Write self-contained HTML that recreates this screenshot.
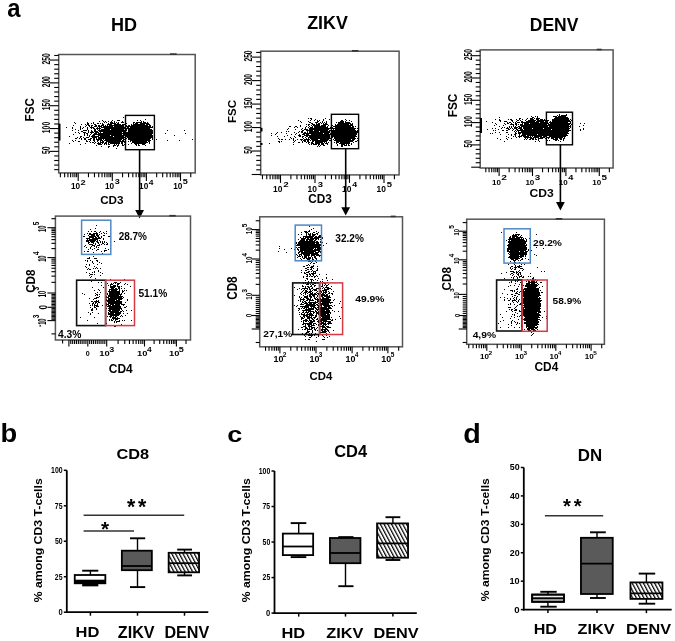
<!DOCTYPE html>
<html><head><meta charset="utf-8"><style>
html,body{margin:0;padding:0;background:#fff;}
svg{display:block;font-family:"Liberation Sans",sans-serif;filter:blur(0.35px);}
</style></head><body>
<svg width="675" height="641" viewBox="0 0 675 641">
<rect width="675" height="641" fill="#fff"/>
<text transform="translate(7.28,17.04) scale(0.907,1)" font-size="26.30" font-weight="bold" fill="#000">a</text>
<text transform="translate(110.98,30.70) scale(0.962,1)" font-size="18.76" font-weight="bold" fill="#000">HD</text>
<text transform="translate(307.16,29.30) scale(0.974,1)" font-size="18.33" font-weight="bold" fill="#000">ZIKV</text>
<text transform="translate(529.82,31.00) scale(0.947,1)" font-size="18.47" font-weight="bold" fill="#000">DENV</text>
<path d="M123 117h1v1h-1zM145 119h1v1h-1zM102 120h1v1h-1zM112 120h1v1h-1zM117 120h3v1h-3zM137 120h1v1h-1zM140 120h1v1h-1zM99 121h1v1h-1zM103 121h1v1h-1zM105 121h1v1h-1zM108 121h1v1h-1zM111 121h1v1h-1zM114 121h1v1h-1zM122 121h1v1h-1zM141 121h1v1h-1zM143 121h1v1h-1zM74 122h1v1h-1zM87 122h1v1h-1zM93 122h1v1h-1zM104 122h1v1h-1zM106 122h1v1h-1zM110 122h3v1h-3zM114 122h1v1h-1zM116 122h1v1h-1zM118 122h1v1h-1zM121 122h3v1h-3zM133 122h2v1h-2zM136 122h6v1h-6zM143 122h3v1h-3zM147 122h1v1h-1zM75 123h1v1h-1zM87 123h2v1h-2zM91 123h1v1h-1zM93 123h1v1h-1zM97 123h2v1h-2zM100 123h1v1h-1zM102 123h1v1h-1zM108 123h1v1h-1zM110 123h6v1h-6zM117 123h2v1h-2zM126 123h1v1h-1zM133 123h1v1h-1zM135 123h3v1h-3zM140 123h9v1h-9zM81 124h1v1h-1zM85 124h1v1h-1zM87 124h2v1h-2zM94 124h2v1h-2zM102 124h2v1h-2zM107 124h5v1h-5zM114 124h7v1h-7zM122 124h3v1h-3zM131 124h1v1h-1zM133 124h12v1h-12zM146 124h4v1h-4zM73 125h1v1h-1zM86 125h1v1h-1zM88 125h2v1h-2zM91 125h2v1h-2zM95 125h2v1h-2zM98 125h2v1h-2zM101 125h3v1h-3zM105 125h1v1h-1zM107 125h1v1h-1zM109 125h15v1h-15zM125 125h2v1h-2zM128 125h2v1h-2zM131 125h17v1h-17zM149 125h2v1h-2zM80 126h1v1h-1zM85 126h1v1h-1zM89 126h1v1h-1zM91 126h1v1h-1zM94 126h3v1h-3zM98 126h4v1h-4zM103 126h10v1h-10zM114 126h10v1h-10zM125 126h26v1h-26zM152 126h1v1h-1zM66 127h1v1h-1zM72 127h1v1h-1zM80 127h1v1h-1zM83 127h1v1h-1zM87 127h1v1h-1zM90 127h4v1h-4zM97 127h1v1h-1zM99 127h1v1h-1zM101 127h25v1h-25zM127 127h2v1h-2zM130 127h23v1h-23zM72 128h1v1h-1zM80 128h1v1h-1zM82 128h1v1h-1zM87 128h1v1h-1zM91 128h1v1h-1zM93 128h2v1h-2zM96 128h5v1h-5zM104 128h46v1h-46zM75 129h1v1h-1zM80 129h1v1h-1zM87 129h1v1h-1zM94 129h2v1h-2zM97 129h1v1h-1zM99 129h1v1h-1zM101 129h9v1h-9zM111 129h13v1h-13zM125 129h2v1h-2zM128 129h24v1h-24zM72 130h1v1h-1zM78 130h1v1h-1zM83 130h4v1h-4zM88 130h1v1h-1zM91 130h1v1h-1zM94 130h2v1h-2zM98 130h29v1h-29zM128 130h25v1h-25zM167 130h1v1h-1zM184 130h1v1h-1zM81 131h2v1h-2zM88 131h1v1h-1zM91 131h2v1h-2zM94 131h4v1h-4zM99 131h27v1h-27zM128 131h25v1h-25zM154 131h1v1h-1zM75 132h1v1h-1zM78 132h1v1h-1zM83 132h3v1h-3zM88 132h1v1h-1zM90 132h4v1h-4zM95 132h4v1h-4zM100 132h1v1h-1zM103 132h19v1h-19zM123 132h2v1h-2zM126 132h27v1h-27zM79 133h1v1h-1zM84 133h1v1h-1zM86 133h2v1h-2zM91 133h1v1h-1zM94 133h3v1h-3zM98 133h55v1h-55zM165 133h1v1h-1zM185 133h1v1h-1zM73 134h1v1h-1zM84 134h1v1h-1zM87 134h1v1h-1zM90 134h1v1h-1zM93 134h29v1h-29zM123 134h29v1h-29zM84 135h1v1h-1zM87 135h1v1h-1zM89 135h1v1h-1zM92 135h3v1h-3zM98 135h12v1h-12zM111 135h42v1h-42zM174 135h1v1h-1zM69 136h1v1h-1zM80 136h2v1h-2zM89 136h1v1h-1zM91 136h8v1h-8zM100 136h13v1h-13zM114 136h10v1h-10zM125 136h28v1h-28zM77 137h1v1h-1zM80 137h1v1h-1zM83 137h1v1h-1zM86 137h3v1h-3zM92 137h5v1h-5zM98 137h28v1h-28zM127 137h26v1h-26zM75 138h2v1h-2zM79 138h1v1h-1zM81 138h1v1h-1zM84 138h2v1h-2zM90 138h2v1h-2zM93 138h2v1h-2zM96 138h1v1h-1zM98 138h26v1h-26zM125 138h2v1h-2zM128 138h23v1h-23zM152 138h1v1h-1zM81 139h1v1h-1zM84 139h2v1h-2zM88 139h3v1h-3zM93 139h2v1h-2zM96 139h6v1h-6zM103 139h1v1h-1zM105 139h17v1h-17zM123 139h2v1h-2zM128 139h22v1h-22zM152 139h1v1h-1zM156 139h1v1h-1zM192 139h1v1h-1zM72 140h1v1h-1zM75 140h1v1h-1zM86 140h1v1h-1zM90 140h1v1h-1zM93 140h2v1h-2zM97 140h2v1h-2zM100 140h3v1h-3zM104 140h17v1h-17zM122 140h2v1h-2zM125 140h1v1h-1zM130 140h21v1h-21zM167 140h1v1h-1zM179 140h1v1h-1zM73 141h1v1h-1zM78 141h2v1h-2zM86 141h2v1h-2zM89 141h1v1h-1zM94 141h1v1h-1zM97 141h1v1h-1zM100 141h1v1h-1zM102 141h2v1h-2zM106 141h20v1h-20zM128 141h1v1h-1zM130 141h1v1h-1zM132 141h15v1h-15zM148 141h2v1h-2zM90 142h1v1h-1zM92 142h2v1h-2zM95 142h1v1h-1zM98 142h1v1h-1zM100 142h4v1h-4zM105 142h2v1h-2zM108 142h12v1h-12zM121 142h2v1h-2zM124 142h1v1h-1zM132 142h16v1h-16zM149 142h1v1h-1zM69 143h1v1h-1zM85 143h1v1h-1zM94 143h1v1h-1zM97 143h4v1h-4zM102 143h1v1h-1zM104 143h3v1h-3zM108 143h1v1h-1zM110 143h10v1h-10zM121 143h2v1h-2zM125 143h1v1h-1zM131 143h1v1h-1zM134 143h12v1h-12zM149 143h1v1h-1zM80 144h1v1h-1zM98 144h4v1h-4zM104 144h1v1h-1zM106 144h1v1h-1zM108 144h2v1h-2zM114 144h1v1h-1zM116 144h1v1h-1zM118 144h1v1h-1zM122 144h1v1h-1zM124 144h1v1h-1zM128 144h1v1h-1zM135 144h2v1h-2zM138 144h1v1h-1zM142 144h3v1h-3zM96 145h1v1h-1zM113 145h3v1h-3zM117 145h2v1h-2zM122 145h2v1h-2zM136 145h1v1h-1zM138 145h2v1h-2zM145 145h1v1h-1zM101 146h1v1h-1zM108 146h2v1h-2zM113 146h1v1h-1zM117 146h1v1h-1zM108 147h1v1h-1zM116 148h1v1h-1z" fill="#000"/>
<rect x="58.70" y="54.50" width="136.50" height="118.40" stroke="#555" stroke-width="1.5" fill="none"/>
<line x1="54.20" y1="169.63" x2="58.70" y2="169.63" stroke="#000" stroke-width="1.1"/>
<line x1="54.20" y1="165.07" x2="58.70" y2="165.07" stroke="#000" stroke-width="1.1"/>
<line x1="54.20" y1="160.50" x2="58.70" y2="160.50" stroke="#000" stroke-width="1.1"/>
<line x1="54.20" y1="155.94" x2="58.70" y2="155.94" stroke="#000" stroke-width="1.1"/>
<line x1="49.70" y1="151.37" x2="58.70" y2="151.37" stroke="#000" stroke-width="1.1"/>
<line x1="54.20" y1="146.80" x2="58.70" y2="146.80" stroke="#000" stroke-width="1.1"/>
<line x1="54.20" y1="142.24" x2="58.70" y2="142.24" stroke="#000" stroke-width="1.1"/>
<line x1="54.20" y1="137.67" x2="58.70" y2="137.67" stroke="#000" stroke-width="1.1"/>
<line x1="54.20" y1="133.11" x2="58.70" y2="133.11" stroke="#000" stroke-width="1.1"/>
<line x1="49.70" y1="128.54" x2="58.70" y2="128.54" stroke="#000" stroke-width="1.1"/>
<line x1="54.20" y1="123.97" x2="58.70" y2="123.97" stroke="#000" stroke-width="1.1"/>
<line x1="54.20" y1="119.41" x2="58.70" y2="119.41" stroke="#000" stroke-width="1.1"/>
<line x1="54.20" y1="114.84" x2="58.70" y2="114.84" stroke="#000" stroke-width="1.1"/>
<line x1="54.20" y1="110.28" x2="58.70" y2="110.28" stroke="#000" stroke-width="1.1"/>
<line x1="49.70" y1="105.71" x2="58.70" y2="105.71" stroke="#000" stroke-width="1.1"/>
<line x1="54.20" y1="101.14" x2="58.70" y2="101.14" stroke="#000" stroke-width="1.1"/>
<line x1="54.20" y1="96.58" x2="58.70" y2="96.58" stroke="#000" stroke-width="1.1"/>
<line x1="54.20" y1="92.01" x2="58.70" y2="92.01" stroke="#000" stroke-width="1.1"/>
<line x1="54.20" y1="87.45" x2="58.70" y2="87.45" stroke="#000" stroke-width="1.1"/>
<line x1="49.70" y1="82.88" x2="58.70" y2="82.88" stroke="#000" stroke-width="1.1"/>
<line x1="54.20" y1="78.31" x2="58.70" y2="78.31" stroke="#000" stroke-width="1.1"/>
<line x1="54.20" y1="73.75" x2="58.70" y2="73.75" stroke="#000" stroke-width="1.1"/>
<line x1="54.20" y1="69.18" x2="58.70" y2="69.18" stroke="#000" stroke-width="1.1"/>
<line x1="54.20" y1="64.62" x2="58.70" y2="64.62" stroke="#000" stroke-width="1.1"/>
<line x1="49.70" y1="60.05" x2="58.70" y2="60.05" stroke="#000" stroke-width="1.1"/>
<line x1="54.20" y1="55.48" x2="58.70" y2="55.48" stroke="#000" stroke-width="1.1"/>
<text transform="translate(49.59,154.02) rotate(-90) scale(0.636,1)" font-size="10.74" font-weight="bold" fill="#000">50</text>
<text transform="translate(49.59,133.19) rotate(-90) scale(0.634,1)" font-size="10.74" font-weight="bold" fill="#000">100</text>
<text transform="translate(49.59,110.36) rotate(-90) scale(0.634,1)" font-size="10.74" font-weight="bold" fill="#000">150</text>
<text transform="translate(49.59,87.34) rotate(-90) scale(0.623,1)" font-size="10.74" font-weight="bold" fill="#000">200</text>
<text transform="translate(49.59,64.51) rotate(-90) scale(0.623,1)" font-size="10.74" font-weight="bold" fill="#000">250</text>
<line x1="60.37" y1="172.90" x2="60.37" y2="177.20" stroke="#000" stroke-width="1.1"/>
<line x1="64.63" y1="172.90" x2="64.63" y2="177.20" stroke="#000" stroke-width="1.1"/>
<line x1="67.93" y1="172.90" x2="67.93" y2="177.20" stroke="#000" stroke-width="1.1"/>
<line x1="70.63" y1="172.90" x2="70.63" y2="177.20" stroke="#000" stroke-width="1.1"/>
<line x1="72.92" y1="172.90" x2="72.92" y2="177.20" stroke="#000" stroke-width="1.1"/>
<line x1="74.90" y1="172.90" x2="74.90" y2="177.20" stroke="#000" stroke-width="1.1"/>
<line x1="76.64" y1="172.90" x2="76.64" y2="177.20" stroke="#000" stroke-width="1.1"/>
<line x1="78.20" y1="172.90" x2="78.20" y2="180.90" stroke="#000" stroke-width="1.1"/>
<line x1="88.47" y1="172.90" x2="88.47" y2="177.20" stroke="#000" stroke-width="1.1"/>
<line x1="94.47" y1="172.90" x2="94.47" y2="177.20" stroke="#000" stroke-width="1.1"/>
<line x1="98.73" y1="172.90" x2="98.73" y2="177.20" stroke="#000" stroke-width="1.1"/>
<line x1="102.03" y1="172.90" x2="102.03" y2="177.20" stroke="#000" stroke-width="1.1"/>
<line x1="104.73" y1="172.90" x2="104.73" y2="177.20" stroke="#000" stroke-width="1.1"/>
<line x1="107.02" y1="172.90" x2="107.02" y2="177.20" stroke="#000" stroke-width="1.1"/>
<line x1="109.00" y1="172.90" x2="109.00" y2="177.20" stroke="#000" stroke-width="1.1"/>
<line x1="110.74" y1="172.90" x2="110.74" y2="177.20" stroke="#000" stroke-width="1.1"/>
<line x1="112.30" y1="172.90" x2="112.30" y2="180.90" stroke="#000" stroke-width="1.1"/>
<line x1="122.57" y1="172.90" x2="122.57" y2="177.20" stroke="#000" stroke-width="1.1"/>
<line x1="128.57" y1="172.90" x2="128.57" y2="177.20" stroke="#000" stroke-width="1.1"/>
<line x1="132.83" y1="172.90" x2="132.83" y2="177.20" stroke="#000" stroke-width="1.1"/>
<line x1="136.13" y1="172.90" x2="136.13" y2="177.20" stroke="#000" stroke-width="1.1"/>
<line x1="138.83" y1="172.90" x2="138.83" y2="177.20" stroke="#000" stroke-width="1.1"/>
<line x1="141.12" y1="172.90" x2="141.12" y2="177.20" stroke="#000" stroke-width="1.1"/>
<line x1="143.10" y1="172.90" x2="143.10" y2="177.20" stroke="#000" stroke-width="1.1"/>
<line x1="144.84" y1="172.90" x2="144.84" y2="177.20" stroke="#000" stroke-width="1.1"/>
<line x1="146.40" y1="172.90" x2="146.40" y2="180.90" stroke="#000" stroke-width="1.1"/>
<line x1="156.67" y1="172.90" x2="156.67" y2="177.20" stroke="#000" stroke-width="1.1"/>
<line x1="162.67" y1="172.90" x2="162.67" y2="177.20" stroke="#000" stroke-width="1.1"/>
<line x1="166.93" y1="172.90" x2="166.93" y2="177.20" stroke="#000" stroke-width="1.1"/>
<line x1="170.23" y1="172.90" x2="170.23" y2="177.20" stroke="#000" stroke-width="1.1"/>
<line x1="172.93" y1="172.90" x2="172.93" y2="177.20" stroke="#000" stroke-width="1.1"/>
<line x1="175.22" y1="172.90" x2="175.22" y2="177.20" stroke="#000" stroke-width="1.1"/>
<line x1="177.20" y1="172.90" x2="177.20" y2="177.20" stroke="#000" stroke-width="1.1"/>
<line x1="178.94" y1="172.90" x2="178.94" y2="177.20" stroke="#000" stroke-width="1.1"/>
<line x1="180.50" y1="172.90" x2="180.50" y2="180.90" stroke="#000" stroke-width="1.1"/>
<line x1="190.77" y1="172.90" x2="190.77" y2="177.20" stroke="#000" stroke-width="1.1"/>
<text transform="translate(70.89,189.41) scale(0.883,1)" font-size="9.33" font-weight="bold" fill="#000">10</text>
<text transform="translate(80.47,184.50) scale(1.276,1)" font-size="7.31" font-weight="bold" fill="#000">2</text>
<text transform="translate(104.99,189.41) scale(0.883,1)" font-size="9.33" font-weight="bold" fill="#000">10</text>
<text transform="translate(114.70,184.41) scale(1.259,1)" font-size="7.18" font-weight="bold" fill="#000">3</text>
<text transform="translate(139.09,189.41) scale(0.883,1)" font-size="9.33" font-weight="bold" fill="#000">10</text>
<text transform="translate(148.87,184.50) scale(1.134,1)" font-size="7.42" font-weight="bold" fill="#000">4</text>
<text transform="translate(173.19,189.41) scale(0.883,1)" font-size="9.33" font-weight="bold" fill="#000">10</text>
<text transform="translate(182.83,184.43) scale(1.237,1)" font-size="7.31" font-weight="bold" fill="#000">5</text>
<rect x="125.50" y="115.40" width="28.90" height="34.30" stroke="#000" stroke-width="1.4" fill="none"/>
<line x1="139.60" y1="149.70" x2="139.60" y2="211.40" stroke="#000" stroke-width="1.6"/>
<path d="M135.2 210.1L144.0 210.1L139.6 218.4z" fill="#000"/>
<text transform="translate(33.88,121.39) rotate(-90) scale(0.948,1)" font-size="12.30" font-weight="bold" fill="#000">FSC</text>
<text transform="translate(100.13,203.96) scale(1.025,1)" font-size="11.41" font-weight="bold" fill="#000">CD3</text>
<line x1="59.50" y1="123.70" x2="59.50" y2="140.60" stroke="#000" stroke-width="2"/>
<line x1="170.00" y1="54.10" x2="176.70" y2="54.10" stroke="#333" stroke-width="1.6"/>
<path d="M308 118h1v1h-1zM310 118h2v1h-2zM325 118h1v1h-1zM331 118h1v1h-1zM311 119h1v1h-1zM315 119h1v1h-1zM323 119h1v1h-1zM329 119h1v1h-1zM345 119h1v1h-1zM298 120h1v1h-1zM310 120h1v1h-1zM314 120h1v1h-1zM317 120h1v1h-1zM319 120h1v1h-1zM323 120h1v1h-1zM341 120h2v1h-2zM346 120h1v1h-1zM349 120h1v1h-1zM300 121h1v1h-1zM308 121h1v1h-1zM317 121h2v1h-2zM322 121h1v1h-1zM326 121h1v1h-1zM331 121h1v1h-1zM340 121h4v1h-4zM345 121h1v1h-1zM351 121h1v1h-1zM301 122h1v1h-1zM309 122h2v1h-2zM315 122h3v1h-3zM320 122h1v1h-1zM322 122h1v1h-1zM324 122h1v1h-1zM326 122h1v1h-1zM336 122h1v1h-1zM338 122h6v1h-6zM345 122h5v1h-5zM311 123h2v1h-2zM316 123h1v1h-1zM318 123h2v1h-2zM321 123h1v1h-1zM323 123h1v1h-1zM325 123h2v1h-2zM338 123h13v1h-13zM352 123h1v1h-1zM306 124h1v1h-1zM308 124h2v1h-2zM312 124h3v1h-3zM316 124h4v1h-4zM323 124h5v1h-5zM335 124h1v1h-1zM337 124h12v1h-12zM350 124h3v1h-3zM300 125h1v1h-1zM308 125h1v1h-1zM311 125h1v1h-1zM313 125h7v1h-7zM321 125h5v1h-5zM328 125h1v1h-1zM332 125h1v1h-1zM335 125h18v1h-18zM289 126h2v1h-2zM295 126h2v1h-2zM300 126h1v1h-1zM306 126h1v1h-1zM309 126h1v1h-1zM312 126h1v1h-1zM314 126h12v1h-12zM327 126h1v1h-1zM331 126h1v1h-1zM333 126h18v1h-18zM352 126h2v1h-2zM355 126h1v1h-1zM294 127h1v1h-1zM297 127h1v1h-1zM305 127h1v1h-1zM308 127h1v1h-1zM310 127h3v1h-3zM314 127h14v1h-14zM330 127h3v1h-3zM335 127h19v1h-19zM288 128h1v1h-1zM302 128h1v1h-1zM305 128h1v1h-1zM309 128h47v1h-47zM357 128h1v1h-1zM287 129h1v1h-1zM295 129h1v1h-1zM301 129h1v1h-1zM304 129h4v1h-4zM309 129h20v1h-20zM333 129h1v1h-1zM335 129h20v1h-20zM302 130h2v1h-2zM306 130h7v1h-7zM314 130h14v1h-14zM329 130h2v1h-2zM332 130h24v1h-24zM357 130h1v1h-1zM286 131h1v1h-1zM288 131h1v1h-1zM299 131h1v1h-1zM301 131h2v1h-2zM307 131h1v1h-1zM309 131h10v1h-10zM320 131h10v1h-10zM332 131h26v1h-26zM277 132h1v1h-1zM281 132h1v1h-1zM294 132h1v1h-1zM298 132h1v1h-1zM301 132h2v1h-2zM304 132h2v1h-2zM307 132h1v1h-1zM309 132h21v1h-21zM332 132h26v1h-26zM271 133h1v1h-1zM276 133h1v1h-1zM286 133h1v1h-1zM296 133h1v1h-1zM303 133h20v1h-20zM324 133h5v1h-5zM330 133h1v1h-1zM332 133h25v1h-25zM275 134h1v1h-1zM291 134h1v1h-1zM295 134h1v1h-1zM299 134h1v1h-1zM302 134h3v1h-3zM306 134h3v1h-3zM311 134h46v1h-46zM271 135h1v1h-1zM287 135h1v1h-1zM298 135h3v1h-3zM304 135h26v1h-26zM331 135h25v1h-25zM277 136h1v1h-1zM284 136h1v1h-1zM294 136h1v1h-1zM299 136h2v1h-2zM302 136h2v1h-2zM306 136h2v1h-2zM309 136h21v1h-21zM332 136h25v1h-25zM290 137h1v1h-1zM295 137h1v1h-1zM302 137h1v1h-1zM305 137h1v1h-1zM308 137h22v1h-22zM332 137h1v1h-1zM334 137h21v1h-21zM278 138h1v1h-1zM291 138h1v1h-1zM293 138h1v1h-1zM303 138h1v1h-1zM306 138h1v1h-1zM308 138h1v1h-1zM310 138h22v1h-22zM334 138h22v1h-22zM357 138h1v1h-1zM279 139h1v1h-1zM281 139h2v1h-2zM285 139h1v1h-1zM289 139h1v1h-1zM293 139h1v1h-1zM297 139h1v1h-1zM300 139h3v1h-3zM304 139h6v1h-6zM311 139h7v1h-7zM320 139h9v1h-9zM333 139h1v1h-1zM335 139h16v1h-16zM352 139h3v1h-3zM293 140h1v1h-1zM295 140h1v1h-1zM301 140h1v1h-1zM303 140h3v1h-3zM307 140h2v1h-2zM310 140h1v1h-1zM312 140h16v1h-16zM329 140h3v1h-3zM334 140h20v1h-20zM357 140h1v1h-1zM278 141h2v1h-2zM281 141h1v1h-1zM294 141h1v1h-1zM302 141h1v1h-1zM304 141h2v1h-2zM307 141h2v1h-2zM312 141h2v1h-2zM315 141h12v1h-12zM336 141h17v1h-17zM355 141h2v1h-2zM279 142h1v1h-1zM293 142h1v1h-1zM298 142h2v1h-2zM302 142h1v1h-1zM306 142h1v1h-1zM308 142h2v1h-2zM311 142h2v1h-2zM315 142h8v1h-8zM324 142h1v1h-1zM326 142h1v1h-1zM328 142h1v1h-1zM334 142h1v1h-1zM336 142h3v1h-3zM340 142h10v1h-10zM353 142h1v1h-1zM269 143h1v1h-1zM308 143h1v1h-1zM311 143h3v1h-3zM315 143h5v1h-5zM321 143h3v1h-3zM325 143h3v1h-3zM336 143h1v1h-1zM339 143h11v1h-11zM351 143h1v1h-1zM293 144h1v1h-1zM309 144h1v1h-1zM311 144h1v1h-1zM313 144h4v1h-4zM318 144h2v1h-2zM321 144h3v1h-3zM327 144h1v1h-1zM337 144h1v1h-1zM341 144h4v1h-4zM346 144h1v1h-1zM348 144h1v1h-1zM351 144h1v1h-1zM318 145h1v1h-1zM320 145h1v1h-1zM323 145h2v1h-2zM337 145h1v1h-1zM341 145h2v1h-2zM344 145h3v1h-3zM348 145h2v1h-2zM317 146h1v1h-1zM319 146h1v1h-1zM341 146h2v1h-2z" fill="#000"/>
<rect x="260.70" y="51.20" width="138.40" height="123.70" stroke="#555" stroke-width="1.5" fill="none"/>
<line x1="251.70" y1="174.50" x2="260.70" y2="174.50" stroke="#000" stroke-width="1.1"/>
<line x1="256.20" y1="169.81" x2="260.70" y2="169.81" stroke="#000" stroke-width="1.1"/>
<line x1="256.20" y1="165.11" x2="260.70" y2="165.11" stroke="#000" stroke-width="1.1"/>
<line x1="256.20" y1="160.41" x2="260.70" y2="160.41" stroke="#000" stroke-width="1.1"/>
<line x1="256.20" y1="155.72" x2="260.70" y2="155.72" stroke="#000" stroke-width="1.1"/>
<line x1="251.70" y1="151.03" x2="260.70" y2="151.03" stroke="#000" stroke-width="1.1"/>
<line x1="256.20" y1="146.33" x2="260.70" y2="146.33" stroke="#000" stroke-width="1.1"/>
<line x1="256.20" y1="141.63" x2="260.70" y2="141.63" stroke="#000" stroke-width="1.1"/>
<line x1="256.20" y1="136.94" x2="260.70" y2="136.94" stroke="#000" stroke-width="1.1"/>
<line x1="256.20" y1="132.25" x2="260.70" y2="132.25" stroke="#000" stroke-width="1.1"/>
<line x1="251.70" y1="127.55" x2="260.70" y2="127.55" stroke="#000" stroke-width="1.1"/>
<line x1="256.20" y1="122.86" x2="260.70" y2="122.86" stroke="#000" stroke-width="1.1"/>
<line x1="256.20" y1="118.16" x2="260.70" y2="118.16" stroke="#000" stroke-width="1.1"/>
<line x1="256.20" y1="113.47" x2="260.70" y2="113.47" stroke="#000" stroke-width="1.1"/>
<line x1="256.20" y1="108.77" x2="260.70" y2="108.77" stroke="#000" stroke-width="1.1"/>
<line x1="251.70" y1="104.08" x2="260.70" y2="104.08" stroke="#000" stroke-width="1.1"/>
<line x1="256.20" y1="99.38" x2="260.70" y2="99.38" stroke="#000" stroke-width="1.1"/>
<line x1="256.20" y1="94.69" x2="260.70" y2="94.69" stroke="#000" stroke-width="1.1"/>
<line x1="256.20" y1="89.99" x2="260.70" y2="89.99" stroke="#000" stroke-width="1.1"/>
<line x1="256.20" y1="85.30" x2="260.70" y2="85.30" stroke="#000" stroke-width="1.1"/>
<line x1="251.70" y1="80.60" x2="260.70" y2="80.60" stroke="#000" stroke-width="1.1"/>
<line x1="256.20" y1="75.91" x2="260.70" y2="75.91" stroke="#000" stroke-width="1.1"/>
<line x1="256.20" y1="71.21" x2="260.70" y2="71.21" stroke="#000" stroke-width="1.1"/>
<line x1="256.20" y1="66.52" x2="260.70" y2="66.52" stroke="#000" stroke-width="1.1"/>
<line x1="256.20" y1="61.82" x2="260.70" y2="61.82" stroke="#000" stroke-width="1.1"/>
<line x1="251.70" y1="57.12" x2="260.70" y2="57.12" stroke="#000" stroke-width="1.1"/>
<line x1="256.20" y1="52.43" x2="260.70" y2="52.43" stroke="#000" stroke-width="1.1"/>
<text transform="translate(251.59,153.68) rotate(-90) scale(0.636,1)" font-size="10.74" font-weight="bold" fill="#000">50</text>
<text transform="translate(251.59,132.20) rotate(-90) scale(0.634,1)" font-size="10.74" font-weight="bold" fill="#000">100</text>
<text transform="translate(251.59,108.73) rotate(-90) scale(0.634,1)" font-size="10.74" font-weight="bold" fill="#000">150</text>
<text transform="translate(251.59,85.06) rotate(-90) scale(0.623,1)" font-size="10.74" font-weight="bold" fill="#000">200</text>
<text transform="translate(251.59,61.58) rotate(-90) scale(0.623,1)" font-size="10.74" font-weight="bold" fill="#000">250</text>
<line x1="262.46" y1="174.90" x2="262.46" y2="179.20" stroke="#000" stroke-width="1.1"/>
<line x1="266.77" y1="174.90" x2="266.77" y2="179.20" stroke="#000" stroke-width="1.1"/>
<line x1="270.11" y1="174.90" x2="270.11" y2="179.20" stroke="#000" stroke-width="1.1"/>
<line x1="272.85" y1="174.90" x2="272.85" y2="179.20" stroke="#000" stroke-width="1.1"/>
<line x1="275.16" y1="174.90" x2="275.16" y2="179.20" stroke="#000" stroke-width="1.1"/>
<line x1="277.16" y1="174.90" x2="277.16" y2="179.20" stroke="#000" stroke-width="1.1"/>
<line x1="278.92" y1="174.90" x2="278.92" y2="179.20" stroke="#000" stroke-width="1.1"/>
<line x1="280.50" y1="174.90" x2="280.50" y2="182.90" stroke="#000" stroke-width="1.1"/>
<line x1="290.89" y1="174.90" x2="290.89" y2="179.20" stroke="#000" stroke-width="1.1"/>
<line x1="296.96" y1="174.90" x2="296.96" y2="179.20" stroke="#000" stroke-width="1.1"/>
<line x1="301.27" y1="174.90" x2="301.27" y2="179.20" stroke="#000" stroke-width="1.1"/>
<line x1="304.61" y1="174.90" x2="304.61" y2="179.20" stroke="#000" stroke-width="1.1"/>
<line x1="307.35" y1="174.90" x2="307.35" y2="179.20" stroke="#000" stroke-width="1.1"/>
<line x1="309.66" y1="174.90" x2="309.66" y2="179.20" stroke="#000" stroke-width="1.1"/>
<line x1="311.66" y1="174.90" x2="311.66" y2="179.20" stroke="#000" stroke-width="1.1"/>
<line x1="313.42" y1="174.90" x2="313.42" y2="179.20" stroke="#000" stroke-width="1.1"/>
<line x1="315.00" y1="174.90" x2="315.00" y2="182.90" stroke="#000" stroke-width="1.1"/>
<line x1="325.39" y1="174.90" x2="325.39" y2="179.20" stroke="#000" stroke-width="1.1"/>
<line x1="331.46" y1="174.90" x2="331.46" y2="179.20" stroke="#000" stroke-width="1.1"/>
<line x1="335.77" y1="174.90" x2="335.77" y2="179.20" stroke="#000" stroke-width="1.1"/>
<line x1="339.11" y1="174.90" x2="339.11" y2="179.20" stroke="#000" stroke-width="1.1"/>
<line x1="341.85" y1="174.90" x2="341.85" y2="179.20" stroke="#000" stroke-width="1.1"/>
<line x1="344.16" y1="174.90" x2="344.16" y2="179.20" stroke="#000" stroke-width="1.1"/>
<line x1="346.16" y1="174.90" x2="346.16" y2="179.20" stroke="#000" stroke-width="1.1"/>
<line x1="347.92" y1="174.90" x2="347.92" y2="179.20" stroke="#000" stroke-width="1.1"/>
<line x1="349.50" y1="174.90" x2="349.50" y2="182.90" stroke="#000" stroke-width="1.1"/>
<line x1="359.89" y1="174.90" x2="359.89" y2="179.20" stroke="#000" stroke-width="1.1"/>
<line x1="365.96" y1="174.90" x2="365.96" y2="179.20" stroke="#000" stroke-width="1.1"/>
<line x1="370.27" y1="174.90" x2="370.27" y2="179.20" stroke="#000" stroke-width="1.1"/>
<line x1="373.61" y1="174.90" x2="373.61" y2="179.20" stroke="#000" stroke-width="1.1"/>
<line x1="376.35" y1="174.90" x2="376.35" y2="179.20" stroke="#000" stroke-width="1.1"/>
<line x1="378.66" y1="174.90" x2="378.66" y2="179.20" stroke="#000" stroke-width="1.1"/>
<line x1="380.66" y1="174.90" x2="380.66" y2="179.20" stroke="#000" stroke-width="1.1"/>
<line x1="382.42" y1="174.90" x2="382.42" y2="179.20" stroke="#000" stroke-width="1.1"/>
<line x1="384.00" y1="174.90" x2="384.00" y2="182.90" stroke="#000" stroke-width="1.1"/>
<line x1="394.39" y1="174.90" x2="394.39" y2="179.20" stroke="#000" stroke-width="1.1"/>
<text transform="translate(272.97,192.11) scale(0.963,1)" font-size="8.76" font-weight="bold" fill="#000">10</text>
<text transform="translate(283.16,187.20) scale(1.307,1)" font-size="7.46" font-weight="bold" fill="#000">2</text>
<text transform="translate(307.47,192.11) scale(0.963,1)" font-size="8.76" font-weight="bold" fill="#000">10</text>
<text transform="translate(317.79,187.11) scale(1.290,1)" font-size="7.32" font-weight="bold" fill="#000">3</text>
<text transform="translate(341.97,192.11) scale(0.963,1)" font-size="8.76" font-weight="bold" fill="#000">10</text>
<text transform="translate(352.37,187.20) scale(1.161,1)" font-size="7.56" font-weight="bold" fill="#000">4</text>
<text transform="translate(376.47,192.11) scale(0.963,1)" font-size="8.76" font-weight="bold" fill="#000">10</text>
<text transform="translate(386.72,187.13) scale(1.267,1)" font-size="7.46" font-weight="bold" fill="#000">5</text>
<rect x="331.40" y="114.30" width="27.20" height="34.40" stroke="#000" stroke-width="1.4" fill="none"/>
<line x1="345.70" y1="148.70" x2="345.70" y2="208.60" stroke="#000" stroke-width="1.6"/>
<path d="M341.3 207.3L350.1 207.3L345.7 215.6z" fill="#000"/>
<text transform="translate(236.48,122.98) rotate(-90) scale(0.992,1)" font-size="11.59" font-weight="bold" fill="#000">FSC</text>
<text transform="translate(308.13,202.75) scale(0.989,1)" font-size="11.97" font-weight="bold" fill="#000">CD3</text>
<line x1="261.50" y1="127.80" x2="261.50" y2="131.50" stroke="#000" stroke-width="2"/>
<line x1="261.50" y1="143.00" x2="261.50" y2="145.00" stroke="#000" stroke-width="2"/>
<line x1="352.00" y1="50.80" x2="358.40" y2="50.80" stroke="#333" stroke-width="1.6"/>
<path d="M559 114h1v1h-1zM566 114h1v1h-1zM557 115h1v1h-1zM559 115h1v1h-1zM561 115h6v1h-6zM531 116h1v1h-1zM535 116h1v1h-1zM537 116h1v1h-1zM553 116h4v1h-4zM558 116h8v1h-8zM499 117h1v1h-1zM532 117h2v1h-2zM537 117h1v1h-1zM555 117h13v1h-13zM519 118h2v1h-2zM527 118h1v1h-1zM530 118h3v1h-3zM534 118h1v1h-1zM536 118h4v1h-4zM554 118h15v1h-15zM495 119h1v1h-1zM499 119h1v1h-1zM508 119h1v1h-1zM510 119h2v1h-2zM516 119h1v1h-1zM519 119h1v1h-1zM522 119h1v1h-1zM526 119h1v1h-1zM530 119h4v1h-4zM536 119h3v1h-3zM540 119h3v1h-3zM544 119h1v1h-1zM552 119h17v1h-17zM570 119h1v1h-1zM499 120h2v1h-2zM511 120h2v1h-2zM517 120h2v1h-2zM520 120h1v1h-1zM525 120h1v1h-1zM528 120h8v1h-8zM537 120h12v1h-12zM552 120h18v1h-18zM571 120h1v1h-1zM486 121h1v1h-1zM500 121h1v1h-1zM504 121h3v1h-3zM512 121h1v1h-1zM516 121h1v1h-1zM521 121h2v1h-2zM526 121h9v1h-9zM536 121h8v1h-8zM545 121h1v1h-1zM547 121h1v1h-1zM550 121h1v1h-1zM552 121h19v1h-19zM492 122h1v1h-1zM507 122h1v1h-1zM509 122h2v1h-2zM513 122h1v1h-1zM515 122h1v1h-1zM517 122h3v1h-3zM521 122h18v1h-18zM540 122h6v1h-6zM547 122h1v1h-1zM549 122h19v1h-19zM570 122h1v1h-1zM495 123h1v1h-1zM504 123h1v1h-1zM507 123h2v1h-2zM511 123h1v1h-1zM515 123h2v1h-2zM522 123h1v1h-1zM524 123h5v1h-5zM530 123h16v1h-16zM547 123h2v1h-2zM550 123h21v1h-21zM580 123h1v1h-1zM584 123h1v1h-1zM496 124h1v1h-1zM505 124h1v1h-1zM510 124h4v1h-4zM515 124h2v1h-2zM518 124h1v1h-1zM520 124h3v1h-3zM524 124h23v1h-23zM548 124h22v1h-22zM571 124h1v1h-1zM494 125h1v1h-1zM503 125h1v1h-1zM513 125h1v1h-1zM516 125h1v1h-1zM520 125h49v1h-49zM570 125h1v1h-1zM583 125h1v1h-1zM499 126h1v1h-1zM509 126h1v1h-1zM511 126h1v1h-1zM513 126h1v1h-1zM515 126h1v1h-1zM518 126h2v1h-2zM521 126h27v1h-27zM549 126h22v1h-22zM579 126h1v1h-1zM502 127h1v1h-1zM504 127h1v1h-1zM507 127h1v1h-1zM509 127h1v1h-1zM511 127h1v1h-1zM514 127h4v1h-4zM519 127h3v1h-3zM523 127h46v1h-46zM570 127h1v1h-1zM492 128h1v1h-1zM495 128h1v1h-1zM501 128h1v1h-1zM506 128h3v1h-3zM510 128h1v1h-1zM512 128h1v1h-1zM514 128h3v1h-3zM518 128h4v1h-4zM523 128h9v1h-9zM533 128h10v1h-10zM544 128h26v1h-26zM583 128h1v1h-1zM487 129h1v1h-1zM498 129h1v1h-1zM508 129h2v1h-2zM513 129h1v1h-1zM516 129h2v1h-2zM520 129h3v1h-3zM524 129h27v1h-27zM552 129h17v1h-17zM580 129h1v1h-1zM583 129h1v1h-1zM493 130h1v1h-1zM495 130h1v1h-1zM502 130h2v1h-2zM506 130h2v1h-2zM512 130h1v1h-1zM515 130h1v1h-1zM517 130h54v1h-54zM580 130h1v1h-1zM514 131h1v1h-1zM516 131h1v1h-1zM518 131h1v1h-1zM521 131h48v1h-48zM495 132h1v1h-1zM499 132h1v1h-1zM506 132h2v1h-2zM515 132h1v1h-1zM518 132h50v1h-50zM490 133h1v1h-1zM492 133h1v1h-1zM515 133h2v1h-2zM518 133h3v1h-3zM522 133h47v1h-47zM500 134h1v1h-1zM508 134h1v1h-1zM511 134h1v1h-1zM514 134h2v1h-2zM519 134h1v1h-1zM522 134h15v1h-15zM538 134h29v1h-29zM511 135h1v1h-1zM515 135h1v1h-1zM519 135h1v1h-1zM521 135h5v1h-5zM527 135h19v1h-19zM547 135h21v1h-21zM506 136h1v1h-1zM513 136h1v1h-1zM515 136h1v1h-1zM518 136h4v1h-4zM523 136h6v1h-6zM530 136h1v1h-1zM532 136h1v1h-1zM534 136h8v1h-8zM543 136h4v1h-4zM549 136h17v1h-17zM508 137h1v1h-1zM516 137h1v1h-1zM519 137h1v1h-1zM524 137h8v1h-8zM533 137h6v1h-6zM540 137h5v1h-5zM547 137h3v1h-3zM551 137h12v1h-12zM564 137h1v1h-1zM497 138h1v1h-1zM506 138h1v1h-1zM511 138h1v1h-1zM525 138h1v1h-1zM527 138h1v1h-1zM530 138h4v1h-4zM535 138h1v1h-1zM538 138h5v1h-5zM545 138h2v1h-2zM548 138h1v1h-1zM551 138h3v1h-3zM555 138h3v1h-3zM559 138h3v1h-3zM563 138h2v1h-2zM500 139h1v1h-1zM507 139h1v1h-1zM524 139h1v1h-1zM526 139h1v1h-1zM529 139h2v1h-2zM532 139h2v1h-2zM535 139h2v1h-2zM538 139h1v1h-1zM553 139h5v1h-5zM560 139h2v1h-2zM563 139h1v1h-1zM538 140h1v1h-1zM547 140h1v1h-1zM549 140h1v1h-1zM555 140h2v1h-2zM558 140h1v1h-1zM563 140h1v1h-1zM504 141h1v1h-1zM535 141h1v1h-1zM539 141h1v1h-1zM560 141h1v1h-1z" fill="#000"/>
<rect x="480.20" y="49.90" width="132.90" height="118.10" stroke="#555" stroke-width="1.5" fill="none"/>
<line x1="471.20" y1="167.20" x2="480.20" y2="167.20" stroke="#000" stroke-width="1.1"/>
<line x1="475.70" y1="162.74" x2="480.20" y2="162.74" stroke="#000" stroke-width="1.1"/>
<line x1="475.70" y1="158.28" x2="480.20" y2="158.28" stroke="#000" stroke-width="1.1"/>
<line x1="475.70" y1="153.82" x2="480.20" y2="153.82" stroke="#000" stroke-width="1.1"/>
<line x1="475.70" y1="149.36" x2="480.20" y2="149.36" stroke="#000" stroke-width="1.1"/>
<line x1="471.20" y1="144.90" x2="480.20" y2="144.90" stroke="#000" stroke-width="1.1"/>
<line x1="475.70" y1="140.44" x2="480.20" y2="140.44" stroke="#000" stroke-width="1.1"/>
<line x1="475.70" y1="135.98" x2="480.20" y2="135.98" stroke="#000" stroke-width="1.1"/>
<line x1="475.70" y1="131.52" x2="480.20" y2="131.52" stroke="#000" stroke-width="1.1"/>
<line x1="475.70" y1="127.06" x2="480.20" y2="127.06" stroke="#000" stroke-width="1.1"/>
<line x1="471.20" y1="122.60" x2="480.20" y2="122.60" stroke="#000" stroke-width="1.1"/>
<line x1="475.70" y1="118.14" x2="480.20" y2="118.14" stroke="#000" stroke-width="1.1"/>
<line x1="475.70" y1="113.68" x2="480.20" y2="113.68" stroke="#000" stroke-width="1.1"/>
<line x1="475.70" y1="109.22" x2="480.20" y2="109.22" stroke="#000" stroke-width="1.1"/>
<line x1="475.70" y1="104.76" x2="480.20" y2="104.76" stroke="#000" stroke-width="1.1"/>
<line x1="471.20" y1="100.30" x2="480.20" y2="100.30" stroke="#000" stroke-width="1.1"/>
<line x1="475.70" y1="95.84" x2="480.20" y2="95.84" stroke="#000" stroke-width="1.1"/>
<line x1="475.70" y1="91.38" x2="480.20" y2="91.38" stroke="#000" stroke-width="1.1"/>
<line x1="475.70" y1="86.92" x2="480.20" y2="86.92" stroke="#000" stroke-width="1.1"/>
<line x1="475.70" y1="82.46" x2="480.20" y2="82.46" stroke="#000" stroke-width="1.1"/>
<line x1="471.20" y1="78.00" x2="480.20" y2="78.00" stroke="#000" stroke-width="1.1"/>
<line x1="475.70" y1="73.54" x2="480.20" y2="73.54" stroke="#000" stroke-width="1.1"/>
<line x1="475.70" y1="69.08" x2="480.20" y2="69.08" stroke="#000" stroke-width="1.1"/>
<line x1="475.70" y1="64.62" x2="480.20" y2="64.62" stroke="#000" stroke-width="1.1"/>
<line x1="475.70" y1="60.16" x2="480.20" y2="60.16" stroke="#000" stroke-width="1.1"/>
<line x1="471.20" y1="55.70" x2="480.20" y2="55.70" stroke="#000" stroke-width="1.1"/>
<line x1="475.70" y1="51.24" x2="480.20" y2="51.24" stroke="#000" stroke-width="1.1"/>
<text transform="translate(471.59,147.55) rotate(-90) scale(0.636,1)" font-size="10.74" font-weight="bold" fill="#000">50</text>
<text transform="translate(471.59,127.25) rotate(-90) scale(0.634,1)" font-size="10.74" font-weight="bold" fill="#000">100</text>
<text transform="translate(471.59,104.95) rotate(-90) scale(0.634,1)" font-size="10.74" font-weight="bold" fill="#000">150</text>
<text transform="translate(471.59,82.46) rotate(-90) scale(0.623,1)" font-size="10.74" font-weight="bold" fill="#000">200</text>
<text transform="translate(471.59,60.16) rotate(-90) scale(0.623,1)" font-size="10.74" font-weight="bold" fill="#000">250</text>
<line x1="485.81" y1="168.00" x2="485.81" y2="172.30" stroke="#000" stroke-width="1.1"/>
<line x1="489.05" y1="168.00" x2="489.05" y2="172.30" stroke="#000" stroke-width="1.1"/>
<line x1="491.69" y1="168.00" x2="491.69" y2="172.30" stroke="#000" stroke-width="1.1"/>
<line x1="493.93" y1="168.00" x2="493.93" y2="172.30" stroke="#000" stroke-width="1.1"/>
<line x1="495.86" y1="168.00" x2="495.86" y2="172.30" stroke="#000" stroke-width="1.1"/>
<line x1="497.57" y1="168.00" x2="497.57" y2="172.30" stroke="#000" stroke-width="1.1"/>
<line x1="499.10" y1="168.00" x2="499.10" y2="176.00" stroke="#000" stroke-width="1.1"/>
<line x1="509.15" y1="168.00" x2="509.15" y2="172.30" stroke="#000" stroke-width="1.1"/>
<line x1="515.04" y1="168.00" x2="515.04" y2="172.30" stroke="#000" stroke-width="1.1"/>
<line x1="519.21" y1="168.00" x2="519.21" y2="172.30" stroke="#000" stroke-width="1.1"/>
<line x1="522.45" y1="168.00" x2="522.45" y2="172.30" stroke="#000" stroke-width="1.1"/>
<line x1="525.09" y1="168.00" x2="525.09" y2="172.30" stroke="#000" stroke-width="1.1"/>
<line x1="527.33" y1="168.00" x2="527.33" y2="172.30" stroke="#000" stroke-width="1.1"/>
<line x1="529.26" y1="168.00" x2="529.26" y2="172.30" stroke="#000" stroke-width="1.1"/>
<line x1="530.97" y1="168.00" x2="530.97" y2="172.30" stroke="#000" stroke-width="1.1"/>
<line x1="532.50" y1="168.00" x2="532.50" y2="176.00" stroke="#000" stroke-width="1.1"/>
<line x1="542.55" y1="168.00" x2="542.55" y2="172.30" stroke="#000" stroke-width="1.1"/>
<line x1="548.44" y1="168.00" x2="548.44" y2="172.30" stroke="#000" stroke-width="1.1"/>
<line x1="552.61" y1="168.00" x2="552.61" y2="172.30" stroke="#000" stroke-width="1.1"/>
<line x1="555.85" y1="168.00" x2="555.85" y2="172.30" stroke="#000" stroke-width="1.1"/>
<line x1="558.49" y1="168.00" x2="558.49" y2="172.30" stroke="#000" stroke-width="1.1"/>
<line x1="560.73" y1="168.00" x2="560.73" y2="172.30" stroke="#000" stroke-width="1.1"/>
<line x1="562.66" y1="168.00" x2="562.66" y2="172.30" stroke="#000" stroke-width="1.1"/>
<line x1="564.37" y1="168.00" x2="564.37" y2="172.30" stroke="#000" stroke-width="1.1"/>
<line x1="565.90" y1="168.00" x2="565.90" y2="176.00" stroke="#000" stroke-width="1.1"/>
<line x1="575.95" y1="168.00" x2="575.95" y2="172.30" stroke="#000" stroke-width="1.1"/>
<line x1="581.84" y1="168.00" x2="581.84" y2="172.30" stroke="#000" stroke-width="1.1"/>
<line x1="586.01" y1="168.00" x2="586.01" y2="172.30" stroke="#000" stroke-width="1.1"/>
<line x1="589.25" y1="168.00" x2="589.25" y2="172.30" stroke="#000" stroke-width="1.1"/>
<line x1="591.89" y1="168.00" x2="591.89" y2="172.30" stroke="#000" stroke-width="1.1"/>
<line x1="594.13" y1="168.00" x2="594.13" y2="172.30" stroke="#000" stroke-width="1.1"/>
<line x1="596.06" y1="168.00" x2="596.06" y2="172.30" stroke="#000" stroke-width="1.1"/>
<line x1="597.77" y1="168.00" x2="597.77" y2="172.30" stroke="#000" stroke-width="1.1"/>
<line x1="599.30" y1="168.00" x2="599.30" y2="176.00" stroke="#000" stroke-width="1.1"/>
<line x1="609.35" y1="168.00" x2="609.35" y2="172.30" stroke="#000" stroke-width="1.1"/>
<text transform="translate(492.00,184.62) scale(0.998,1)" font-size="8.06" font-weight="bold" fill="#000">10</text>
<text transform="translate(501.14,179.70) scale(1.507,1)" font-size="6.74" font-weight="bold" fill="#000">2</text>
<text transform="translate(525.40,184.62) scale(0.998,1)" font-size="8.06" font-weight="bold" fill="#000">10</text>
<text transform="translate(534.68,179.62) scale(1.488,1)" font-size="6.62" font-weight="bold" fill="#000">3</text>
<text transform="translate(558.80,184.62) scale(0.998,1)" font-size="8.06" font-weight="bold" fill="#000">10</text>
<text transform="translate(568.16,179.70) scale(1.340,1)" font-size="6.84" font-weight="bold" fill="#000">4</text>
<text transform="translate(592.20,184.62) scale(0.998,1)" font-size="8.06" font-weight="bold" fill="#000">10</text>
<text transform="translate(601.40,179.63) scale(1.462,1)" font-size="6.74" font-weight="bold" fill="#000">5</text>
<rect x="546.40" y="112.20" width="26.10" height="32.60" stroke="#000" stroke-width="1.4" fill="none"/>
<line x1="560.40" y1="144.80" x2="560.40" y2="203.40" stroke="#000" stroke-width="1.6"/>
<path d="M556.0 202.1L564.8 202.1L560.4 210.4z" fill="#000"/>
<text transform="translate(457.08,117.30) rotate(-90) scale(0.950,1)" font-size="12.44" font-weight="bold" fill="#000">FSC</text>
<text transform="translate(529.52,197.16) scale(1.074,1)" font-size="11.27" font-weight="bold" fill="#000">CD3</text>
<line x1="481.00" y1="118.00" x2="481.00" y2="133.00" stroke="#000" stroke-width="2"/>
<line x1="596.70" y1="49.50" x2="601.70" y2="49.50" stroke="#333" stroke-width="1.6"/>
<path d="M96 225h1v1h-1zM95 228h1v1h-1zM90 229h1v1h-1zM88 231h1v1h-1zM91 231h1v1h-1zM94 231h2v1h-2zM100 231h1v1h-1zM106 231h1v1h-1zM96 232h1v1h-1zM99 232h1v1h-1zM103 232h1v1h-1zM87 233h1v1h-1zM89 233h2v1h-2zM93 233h5v1h-5zM101 233h1v1h-1zM104 233h1v1h-1zM106 233h1v1h-1zM84 234h1v1h-1zM89 234h6v1h-6zM96 234h2v1h-2zM99 234h1v1h-1zM88 235h1v1h-1zM91 235h4v1h-4zM96 235h3v1h-3zM103 235h2v1h-2zM83 236h2v1h-2zM89 236h7v1h-7zM97 236h2v1h-2zM101 236h1v1h-1zM108 236h2v1h-2zM89 237h5v1h-5zM95 237h2v1h-2zM98 237h2v1h-2zM101 237h1v1h-1zM86 238h4v1h-4zM92 238h9v1h-9zM103 238h1v1h-1zM87 239h1v1h-1zM89 239h9v1h-9zM103 239h1v1h-1zM86 240h10v1h-10zM97 240h1v1h-1zM99 240h1v1h-1zM86 241h3v1h-3zM90 241h5v1h-5zM96 241h2v1h-2zM100 241h1v1h-1zM102 241h1v1h-1zM104 241h1v1h-1zM114 241h1v1h-1zM88 242h2v1h-2zM91 242h3v1h-3zM97 242h2v1h-2zM100 242h1v1h-1zM102 242h1v1h-1zM104 242h1v1h-1zM106 242h1v1h-1zM88 243h1v1h-1zM93 243h1v1h-1zM95 243h1v1h-1zM98 243h1v1h-1zM102 243h2v1h-2zM107 243h1v1h-1zM89 244h4v1h-4zM95 244h1v1h-1zM99 244h1v1h-1zM101 244h1v1h-1zM104 244h1v1h-1zM106 244h2v1h-2zM85 245h1v1h-1zM92 245h3v1h-3zM97 245h3v1h-3zM110 245h1v1h-1zM84 246h1v1h-1zM91 246h1v1h-1zM94 246h1v1h-1zM96 246h1v1h-1zM86 247h1v1h-1zM90 247h1v1h-1zM96 247h1v1h-1zM98 247h1v1h-1zM90 248h1v1h-1zM94 248h1v1h-1zM105 248h1v1h-1zM110 248h1v1h-1zM88 249h1v1h-1zM92 249h1v1h-1zM97 249h2v1h-2zM108 249h1v1h-1zM96 250h1v1h-1zM104 250h3v1h-3zM84 251h1v1h-1zM87 251h2v1h-2zM101 251h1v1h-1zM104 251h1v1h-1zM93 252h1v1h-1zM102 253h1v1h-1zM96 254h1v1h-1zM93 256h1v1h-1zM89 257h1v1h-1zM87 258h3v1h-3zM94 258h3v1h-3zM85 260h1v1h-1zM87 260h1v1h-1zM90 260h1v1h-1zM96 260h2v1h-2zM87 261h1v1h-1zM92 261h1v1h-1zM97 261h1v1h-1zM92 262h1v1h-1zM99 262h1v1h-1zM93 263h1v1h-1zM101 263h1v1h-1zM86 264h1v1h-1zM89 264h1v1h-1zM97 264h1v1h-1zM89 265h1v1h-1zM85 266h1v1h-1zM94 266h1v1h-1zM86 267h1v1h-1zM96 267h1v1h-1zM88 268h1v1h-1zM93 268h1v1h-1zM95 268h1v1h-1zM97 268h1v1h-1zM100 268h1v1h-1zM87 269h1v1h-1zM89 269h2v1h-2zM98 270h1v1h-1zM94 271h1v1h-1zM98 271h1v1h-1zM86 272h1v1h-1zM92 272h1v1h-1zM94 272h1v1h-1zM100 272h1v1h-1zM89 273h1v1h-1zM102 273h1v1h-1zM90 274h3v1h-3zM94 274h1v1h-1zM89 275h1v1h-1zM100 275h1v1h-1zM91 276h1v1h-1zM90 277h1v1h-1zM95 278h1v1h-1zM110 279h1v1h-1zM124 279h1v1h-1zM114 280h2v1h-2zM118 280h1v1h-1zM120 280h1v1h-1zM91 281h1v1h-1zM98 282h1v1h-1zM101 282h1v1h-1zM114 282h3v1h-3zM120 282h1v1h-1zM107 283h1v1h-1zM111 283h1v1h-1zM113 283h1v1h-1zM115 283h1v1h-1zM117 283h3v1h-3zM125 283h1v1h-1zM110 284h3v1h-3zM117 284h2v1h-2zM124 284h1v1h-1zM127 284h1v1h-1zM101 285h1v1h-1zM108 285h1v1h-1zM110 285h1v1h-1zM113 285h3v1h-3zM117 285h1v1h-1zM110 286h6v1h-6zM117 286h3v1h-3zM121 286h1v1h-1zM130 286h1v1h-1zM92 287h1v1h-1zM103 287h1v1h-1zM110 287h5v1h-5zM118 287h2v1h-2zM111 288h3v1h-3zM115 288h2v1h-2zM118 288h2v1h-2zM121 288h1v1h-1zM124 288h1v1h-1zM98 289h1v1h-1zM109 289h9v1h-9zM119 289h1v1h-1zM94 290h1v1h-1zM99 290h1v1h-1zM109 290h1v1h-1zM111 290h6v1h-6zM119 290h1v1h-1zM122 290h1v1h-1zM124 290h1v1h-1zM126 290h1v1h-1zM108 291h12v1h-12zM122 291h2v1h-2zM97 292h1v1h-1zM100 292h1v1h-1zM109 292h11v1h-11zM122 292h1v1h-1zM82 293h1v1h-1zM95 293h1v1h-1zM107 293h1v1h-1zM109 293h11v1h-11zM121 293h1v1h-1zM124 293h1v1h-1zM84 294h1v1h-1zM96 294h2v1h-2zM99 294h1v1h-1zM107 294h1v1h-1zM109 294h13v1h-13zM95 295h1v1h-1zM97 295h1v1h-1zM108 295h11v1h-11zM120 295h1v1h-1zM99 296h1v1h-1zM106 296h1v1h-1zM108 296h15v1h-15zM96 297h3v1h-3zM106 297h3v1h-3zM110 297h12v1h-12zM123 297h1v1h-1zM89 298h1v1h-1zM94 298h3v1h-3zM108 298h15v1h-15zM93 299h1v1h-1zM106 299h1v1h-1zM108 299h9v1h-9zM118 299h4v1h-4zM127 299h1v1h-1zM96 300h1v1h-1zM98 300h1v1h-1zM106 300h9v1h-9zM116 300h4v1h-4zM127 300h1v1h-1zM91 301h2v1h-2zM94 301h5v1h-5zM107 301h15v1h-15zM93 302h1v1h-1zM95 302h2v1h-2zM98 302h2v1h-2zM108 302h14v1h-14zM125 302h1v1h-1zM89 303h1v1h-1zM92 303h2v1h-2zM95 303h1v1h-1zM97 303h1v1h-1zM105 303h2v1h-2zM108 303h14v1h-14zM92 304h1v1h-1zM94 304h1v1h-1zM97 304h1v1h-1zM106 304h3v1h-3zM110 304h4v1h-4zM115 304h5v1h-5zM121 304h4v1h-4zM90 305h1v1h-1zM92 305h1v1h-1zM94 305h4v1h-4zM102 305h1v1h-1zM106 305h1v1h-1zM108 305h3v1h-3zM112 305h8v1h-8zM123 305h1v1h-1zM94 306h1v1h-1zM96 306h3v1h-3zM107 306h14v1h-14zM126 306h1v1h-1zM90 307h1v1h-1zM94 307h2v1h-2zM109 307h12v1h-12zM124 307h2v1h-2zM92 308h1v1h-1zM96 308h1v1h-1zM106 308h1v1h-1zM108 308h14v1h-14zM91 309h2v1h-2zM96 309h1v1h-1zM109 309h11v1h-11zM121 309h1v1h-1zM91 310h2v1h-2zM108 310h3v1h-3zM112 310h8v1h-8zM122 310h1v1h-1zM126 310h1v1h-1zM131 310h1v1h-1zM109 311h10v1h-10zM120 311h2v1h-2zM123 311h1v1h-1zM88 312h1v1h-1zM92 312h1v1h-1zM108 312h1v1h-1zM110 312h11v1h-11zM90 313h1v1h-1zM98 313h1v1h-1zM108 313h6v1h-6zM115 313h6v1h-6zM123 313h1v1h-1zM127 313h1v1h-1zM90 314h1v1h-1zM108 314h12v1h-12zM110 315h9v1h-9zM121 315h1v1h-1zM125 315h1v1h-1zM107 316h1v1h-1zM109 316h3v1h-3zM113 316h1v1h-1zM115 316h2v1h-2zM120 316h1v1h-1zM122 316h1v1h-1zM80 317h1v1h-1zM94 317h1v1h-1zM110 317h1v1h-1zM112 317h4v1h-4zM117 317h1v1h-1zM112 318h8v1h-8zM109 319h1v1h-1zM111 319h1v1h-1zM113 319h1v1h-1zM115 319h3v1h-3zM87 320h1v1h-1zM109 320h1v1h-1zM111 320h2v1h-2zM115 320h1v1h-1zM119 320h1v1h-1zM122 320h1v1h-1zM124 320h1v1h-1zM131 320h1v1h-1zM114 321h1v1h-1zM116 321h4v1h-4zM114 322h1v1h-1zM116 322h1v1h-1zM97 323h1v1h-1zM106 323h1v1h-1zM121 324h1v1h-1zM114 326h2v1h-2z" fill="#000"/>
<rect x="55.40" y="216.10" width="135.10" height="123.90" stroke="#555" stroke-width="1.5" fill="none"/>
<line x1="47.40" y1="257.60" x2="55.40" y2="257.60" stroke="#000" stroke-width="1.1"/>
<line x1="51.40" y1="248.60" x2="55.40" y2="248.60" stroke="#000" stroke-width="1.1"/>
<line x1="51.40" y1="243.33" x2="55.40" y2="243.33" stroke="#000" stroke-width="1.1"/>
<line x1="51.40" y1="239.60" x2="55.40" y2="239.60" stroke="#000" stroke-width="1.1"/>
<line x1="51.40" y1="236.70" x2="55.40" y2="236.70" stroke="#000" stroke-width="1.1"/>
<line x1="51.40" y1="234.33" x2="55.40" y2="234.33" stroke="#000" stroke-width="1.1"/>
<line x1="51.40" y1="232.33" x2="55.40" y2="232.33" stroke="#000" stroke-width="1.1"/>
<line x1="51.40" y1="230.60" x2="55.40" y2="230.60" stroke="#000" stroke-width="1.1"/>
<line x1="51.40" y1="229.07" x2="55.40" y2="229.07" stroke="#000" stroke-width="1.1"/>
<line x1="47.40" y1="293.00" x2="55.40" y2="293.00" stroke="#000" stroke-width="1.1"/>
<line x1="51.40" y1="282.34" x2="55.40" y2="282.34" stroke="#000" stroke-width="1.1"/>
<line x1="51.40" y1="276.11" x2="55.40" y2="276.11" stroke="#000" stroke-width="1.1"/>
<line x1="51.40" y1="271.69" x2="55.40" y2="271.69" stroke="#000" stroke-width="1.1"/>
<line x1="51.40" y1="268.26" x2="55.40" y2="268.26" stroke="#000" stroke-width="1.1"/>
<line x1="51.40" y1="265.45" x2="55.40" y2="265.45" stroke="#000" stroke-width="1.1"/>
<line x1="51.40" y1="263.08" x2="55.40" y2="263.08" stroke="#000" stroke-width="1.1"/>
<line x1="51.40" y1="261.03" x2="55.40" y2="261.03" stroke="#000" stroke-width="1.1"/>
<line x1="51.40" y1="259.22" x2="55.40" y2="259.22" stroke="#000" stroke-width="1.1"/>
<line x1="47.40" y1="227.70" x2="55.40" y2="227.70" stroke="#000" stroke-width="1.1"/>
<line x1="51.40" y1="218.70" x2="55.40" y2="218.70" stroke="#000" stroke-width="1.1"/>
<line x1="51.40" y1="305.87" x2="55.40" y2="305.87" stroke="#000" stroke-width="1.1"/>
<line x1="51.40" y1="308.63" x2="55.40" y2="308.63" stroke="#000" stroke-width="1.1"/>
<line x1="51.40" y1="304.44" x2="55.40" y2="304.44" stroke="#000" stroke-width="1.1"/>
<line x1="51.40" y1="309.96" x2="55.40" y2="309.96" stroke="#000" stroke-width="1.1"/>
<line x1="51.40" y1="303.01" x2="55.40" y2="303.01" stroke="#000" stroke-width="1.1"/>
<line x1="51.40" y1="311.29" x2="55.40" y2="311.29" stroke="#000" stroke-width="1.1"/>
<line x1="51.40" y1="301.58" x2="55.40" y2="301.58" stroke="#000" stroke-width="1.1"/>
<line x1="51.40" y1="312.62" x2="55.40" y2="312.62" stroke="#000" stroke-width="1.1"/>
<line x1="51.40" y1="300.15" x2="55.40" y2="300.15" stroke="#000" stroke-width="1.1"/>
<line x1="51.40" y1="313.95" x2="55.40" y2="313.95" stroke="#000" stroke-width="1.1"/>
<line x1="51.40" y1="298.72" x2="55.40" y2="298.72" stroke="#000" stroke-width="1.1"/>
<line x1="51.40" y1="315.28" x2="55.40" y2="315.28" stroke="#000" stroke-width="1.1"/>
<line x1="51.40" y1="297.29" x2="55.40" y2="297.29" stroke="#000" stroke-width="1.1"/>
<line x1="51.40" y1="316.61" x2="55.40" y2="316.61" stroke="#000" stroke-width="1.1"/>
<line x1="51.40" y1="295.86" x2="55.40" y2="295.86" stroke="#000" stroke-width="1.1"/>
<line x1="51.40" y1="317.94" x2="55.40" y2="317.94" stroke="#000" stroke-width="1.1"/>
<line x1="51.40" y1="294.43" x2="55.40" y2="294.43" stroke="#000" stroke-width="1.1"/>
<line x1="51.40" y1="319.27" x2="55.40" y2="319.27" stroke="#000" stroke-width="1.1"/>
<line x1="47.40" y1="307.30" x2="55.40" y2="307.30" stroke="#000" stroke-width="1.1"/>
<line x1="47.40" y1="320.60" x2="55.40" y2="320.60" stroke="#000" stroke-width="1.1"/>
<line x1="51.40" y1="333.90" x2="55.40" y2="333.90" stroke="#000" stroke-width="1.1"/>
<text transform="translate(45.80,231.96) rotate(-90) scale(0.550,1)" font-size="10.46" font-weight="bold" fill="#000">10</text>
<text transform="translate(39.11,225.30) rotate(-90) scale(0.701,1)" font-size="9.46" font-weight="bold" fill="#000">5</text>
<text transform="translate(45.80,261.86) rotate(-90) scale(0.550,1)" font-size="10.46" font-weight="bold" fill="#000">10</text>
<text transform="translate(39.20,255.09) rotate(-90) scale(0.643,1)" font-size="9.60" font-weight="bold" fill="#000">4</text>
<text transform="translate(45.80,297.26) rotate(-90) scale(0.550,1)" font-size="10.46" font-weight="bold" fill="#000">10</text>
<text transform="translate(39.08,290.55) rotate(-90) scale(0.714,1)" font-size="9.30" font-weight="bold" fill="#000">3</text>
<text transform="translate(46.69,309.52) rotate(-90) scale(0.745,1)" font-size="10.74" font-weight="bold" fill="#000">0</text>
<text transform="translate(44.27,326.72) rotate(-90) scale(0.416,1)" font-size="13.33" font-weight="bold" fill="#000">-</text>
<text transform="translate(45.80,324.86) rotate(-90) scale(0.550,1)" font-size="10.46" font-weight="bold" fill="#000">10</text>
<text transform="translate(39.08,318.15) rotate(-90) scale(0.714,1)" font-size="9.30" font-weight="bold" fill="#000">3</text>
<line x1="106.70" y1="340.00" x2="106.70" y2="346.50" stroke="#000" stroke-width="1.1"/>
<line x1="118.08" y1="340.00" x2="118.08" y2="344.00" stroke="#000" stroke-width="1.1"/>
<line x1="124.74" y1="340.00" x2="124.74" y2="344.00" stroke="#000" stroke-width="1.1"/>
<line x1="129.46" y1="340.00" x2="129.46" y2="344.00" stroke="#000" stroke-width="1.1"/>
<line x1="133.12" y1="340.00" x2="133.12" y2="344.00" stroke="#000" stroke-width="1.1"/>
<line x1="136.11" y1="340.00" x2="136.11" y2="344.00" stroke="#000" stroke-width="1.1"/>
<line x1="138.64" y1="340.00" x2="138.64" y2="344.00" stroke="#000" stroke-width="1.1"/>
<line x1="140.84" y1="340.00" x2="140.84" y2="344.00" stroke="#000" stroke-width="1.1"/>
<line x1="142.77" y1="340.00" x2="142.77" y2="344.00" stroke="#000" stroke-width="1.1"/>
<line x1="144.50" y1="340.00" x2="144.50" y2="346.50" stroke="#000" stroke-width="1.1"/>
<line x1="154.10" y1="340.00" x2="154.10" y2="344.00" stroke="#000" stroke-width="1.1"/>
<line x1="159.72" y1="340.00" x2="159.72" y2="344.00" stroke="#000" stroke-width="1.1"/>
<line x1="163.71" y1="340.00" x2="163.71" y2="344.00" stroke="#000" stroke-width="1.1"/>
<line x1="166.80" y1="340.00" x2="166.80" y2="344.00" stroke="#000" stroke-width="1.1"/>
<line x1="169.32" y1="340.00" x2="169.32" y2="344.00" stroke="#000" stroke-width="1.1"/>
<line x1="171.46" y1="340.00" x2="171.46" y2="344.00" stroke="#000" stroke-width="1.1"/>
<line x1="173.31" y1="340.00" x2="173.31" y2="344.00" stroke="#000" stroke-width="1.1"/>
<line x1="174.94" y1="340.00" x2="174.94" y2="344.00" stroke="#000" stroke-width="1.1"/>
<line x1="176.40" y1="340.00" x2="176.40" y2="346.50" stroke="#000" stroke-width="1.1"/>
<line x1="186.00" y1="340.00" x2="186.00" y2="344.00" stroke="#000" stroke-width="1.1"/>
<line x1="89.69" y1="340.00" x2="89.69" y2="344.00" stroke="#000" stroke-width="1.1"/>
<line x1="85.91" y1="340.00" x2="85.91" y2="344.00" stroke="#000" stroke-width="1.1"/>
<line x1="91.58" y1="340.00" x2="91.58" y2="344.00" stroke="#000" stroke-width="1.1"/>
<line x1="84.02" y1="340.00" x2="84.02" y2="344.00" stroke="#000" stroke-width="1.1"/>
<line x1="93.47" y1="340.00" x2="93.47" y2="344.00" stroke="#000" stroke-width="1.1"/>
<line x1="82.13" y1="340.00" x2="82.13" y2="344.00" stroke="#000" stroke-width="1.1"/>
<line x1="95.36" y1="340.00" x2="95.36" y2="344.00" stroke="#000" stroke-width="1.1"/>
<line x1="80.24" y1="340.00" x2="80.24" y2="344.00" stroke="#000" stroke-width="1.1"/>
<line x1="97.25" y1="340.00" x2="97.25" y2="344.00" stroke="#000" stroke-width="1.1"/>
<line x1="78.35" y1="340.00" x2="78.35" y2="344.00" stroke="#000" stroke-width="1.1"/>
<line x1="99.14" y1="340.00" x2="99.14" y2="344.00" stroke="#000" stroke-width="1.1"/>
<line x1="76.46" y1="340.00" x2="76.46" y2="344.00" stroke="#000" stroke-width="1.1"/>
<line x1="101.03" y1="340.00" x2="101.03" y2="344.00" stroke="#000" stroke-width="1.1"/>
<line x1="74.57" y1="340.00" x2="74.57" y2="344.00" stroke="#000" stroke-width="1.1"/>
<line x1="102.92" y1="340.00" x2="102.92" y2="344.00" stroke="#000" stroke-width="1.1"/>
<line x1="72.68" y1="340.00" x2="72.68" y2="344.00" stroke="#000" stroke-width="1.1"/>
<line x1="104.81" y1="340.00" x2="104.81" y2="344.00" stroke="#000" stroke-width="1.1"/>
<line x1="70.79" y1="340.00" x2="70.79" y2="344.00" stroke="#000" stroke-width="1.1"/>
<line x1="87.80" y1="340.00" x2="87.80" y2="346.50" stroke="#000" stroke-width="1.1"/>
<line x1="68.90" y1="340.00" x2="68.90" y2="346.50" stroke="#000" stroke-width="1.1"/>
<line x1="62.60" y1="340.00" x2="62.60" y2="343.50" stroke="#000" stroke-width="1.1"/>
<text transform="translate(85.81,355.53) scale(1.077,1)" font-size="6.64" font-weight="bold" fill="#000">0</text>
<text transform="translate(99.21,356.12) scale(1.213,1)" font-size="7.77" font-weight="bold" fill="#000">10</text>
<text transform="translate(109.20,352.12) scale(1.396,1)" font-size="6.48" font-weight="bold" fill="#000">3</text>
<text transform="translate(137.01,356.12) scale(1.213,1)" font-size="7.77" font-weight="bold" fill="#000">10</text>
<text transform="translate(147.07,352.20) scale(1.257,1)" font-size="6.69" font-weight="bold" fill="#000">4</text>
<text transform="translate(168.91,356.12) scale(1.213,1)" font-size="7.77" font-weight="bold" fill="#000">10</text>
<text transform="translate(178.83,352.13) scale(1.372,1)" font-size="6.59" font-weight="bold" fill="#000">5</text>
<rect x="81.60" y="220.20" width="29.20" height="34.20" stroke="#4f88c6" stroke-width="1.5" fill="none"/>
<rect x="76.60" y="280.20" width="29.00" height="45.40" stroke="#111" stroke-width="1.6" fill="none"/>
<rect x="105.60" y="280.20" width="28.90" height="45.40" stroke="#d63a44" stroke-width="1.5" fill="none"/>
<text transform="translate(35.18,292.76) rotate(-90) scale(0.944,1)" font-size="12.30" font-weight="bold" fill="#000">CD8</text>
<text transform="translate(108.82,372.57) scale(0.901,1)" font-size="13.29" font-weight="bold" fill="#000">CD4</text>
<text transform="translate(118.65,239.70) scale(0.954,1)" font-size="10.46" font-weight="bold" fill="#000">28.7%</text>
<text transform="translate(138.39,296.89) scale(0.960,1)" font-size="10.64" font-weight="bold" fill="#000">51.1%</text>
<text transform="translate(58.05,337.87) scale(1.000,1)" font-size="10.28" font-weight="bold" fill="#000">4.3%</text>
<line x1="169.30" y1="215.70" x2="175.70" y2="215.70" stroke="#333" stroke-width="1.6"/>
<path d="M309 226h1v1h-1zM313 228h1v1h-1zM311 229h1v1h-1zM309 230h1v1h-1zM304 231h3v1h-3zM308 231h2v1h-2zM316 231h1v1h-1zM301 232h1v1h-1zM305 232h3v1h-3zM313 232h2v1h-2zM318 232h1v1h-1zM306 233h1v1h-1zM308 233h1v1h-1zM310 233h1v1h-1zM312 233h1v1h-1zM316 233h2v1h-2zM298 234h1v1h-1zM301 234h1v1h-1zM306 234h1v1h-1zM308 234h3v1h-3zM312 234h4v1h-4zM317 234h1v1h-1zM306 235h1v1h-1zM309 235h2v1h-2zM312 235h3v1h-3zM319 235h2v1h-2zM303 236h11v1h-11zM315 236h2v1h-2zM318 236h3v1h-3zM300 237h1v1h-1zM303 237h1v1h-1zM305 237h8v1h-8zM314 237h7v1h-7zM322 237h1v1h-1zM301 238h5v1h-5zM307 238h2v1h-2zM310 238h9v1h-9zM322 238h1v1h-1zM298 239h1v1h-1zM301 239h4v1h-4zM306 239h8v1h-8zM315 239h2v1h-2zM318 239h1v1h-1zM320 239h1v1h-1zM300 240h5v1h-5zM306 240h2v1h-2zM309 240h4v1h-4zM314 240h2v1h-2zM299 241h16v1h-16zM316 241h2v1h-2zM320 241h2v1h-2zM295 242h2v1h-2zM298 242h21v1h-21zM320 242h3v1h-3zM295 243h2v1h-2zM298 243h17v1h-17zM316 243h3v1h-3zM326 243h1v1h-1zM295 244h1v1h-1zM297 244h24v1h-24zM296 245h25v1h-25zM323 245h1v1h-1zM279 246h1v1h-1zM300 246h20v1h-20zM321 246h1v1h-1zM295 247h2v1h-2zM298 247h23v1h-23zM279 248h1v1h-1zM291 248h1v1h-1zM297 248h1v1h-1zM300 248h14v1h-14zM315 248h1v1h-1zM317 248h4v1h-4zM284 249h1v1h-1zM294 249h1v1h-1zM297 249h2v1h-2zM300 249h13v1h-13zM314 249h8v1h-8zM298 250h1v1h-1zM300 250h20v1h-20zM278 251h1v1h-1zM299 251h4v1h-4zM304 251h12v1h-12zM318 251h4v1h-4zM286 252h1v1h-1zM295 252h1v1h-1zM298 252h2v1h-2zM301 252h13v1h-13zM315 252h4v1h-4zM320 252h1v1h-1zM298 253h1v1h-1zM301 253h17v1h-17zM296 254h1v1h-1zM299 254h3v1h-3zM303 254h7v1h-7zM311 254h8v1h-8zM321 254h1v1h-1zM297 255h1v1h-1zM299 255h1v1h-1zM301 255h1v1h-1zM304 255h6v1h-6zM311 255h4v1h-4zM316 255h6v1h-6zM298 256h3v1h-3zM302 256h1v1h-1zM304 256h3v1h-3zM308 256h1v1h-1zM311 256h1v1h-1zM314 256h2v1h-2zM319 256h1v1h-1zM297 257h1v1h-1zM302 257h1v1h-1zM304 257h3v1h-3zM308 257h3v1h-3zM312 257h1v1h-1zM314 257h2v1h-2zM300 258h1v1h-1zM303 258h2v1h-2zM306 258h5v1h-5zM312 258h1v1h-1zM315 258h2v1h-2zM301 259h1v1h-1zM307 259h3v1h-3zM312 259h2v1h-2zM316 259h1v1h-1zM302 260h1v1h-1zM305 260h2v1h-2zM308 260h3v1h-3zM312 260h1v1h-1zM315 260h1v1h-1zM308 261h3v1h-3zM312 261h1v1h-1zM315 261h1v1h-1zM311 262h1v1h-1zM316 262h1v1h-1zM310 263h1v1h-1zM313 263h2v1h-2zM308 264h1v1h-1zM306 265h2v1h-2zM309 265h1v1h-1zM313 265h1v1h-1zM303 266h2v1h-2zM311 266h3v1h-3zM317 266h1v1h-1zM307 267h2v1h-2zM310 267h3v1h-3zM305 268h2v1h-2zM311 268h1v1h-1zM313 268h1v1h-1zM317 268h1v1h-1zM307 269h2v1h-2zM310 269h2v1h-2zM317 269h1v1h-1zM301 270h1v1h-1zM305 270h2v1h-2zM312 270h1v1h-1zM316 270h2v1h-2zM308 271h2v1h-2zM311 271h1v1h-1zM313 271h3v1h-3zM301 272h1v1h-1zM304 272h1v1h-1zM306 272h3v1h-3zM313 272h1v1h-1zM315 272h1v1h-1zM304 273h2v1h-2zM309 273h1v1h-1zM311 273h5v1h-5zM306 274h2v1h-2zM309 274h2v1h-2zM312 274h2v1h-2zM319 274h1v1h-1zM326 274h1v1h-1zM307 275h1v1h-1zM310 275h1v1h-1zM313 275h1v1h-1zM316 275h1v1h-1zM303 276h1v1h-1zM306 276h2v1h-2zM309 276h1v1h-1zM311 276h2v1h-2zM314 276h2v1h-2zM317 276h1v1h-1zM303 277h1v1h-1zM314 277h1v1h-1zM326 277h1v1h-1zM306 278h2v1h-2zM318 278h1v1h-1zM326 278h1v1h-1zM307 279h1v1h-1zM310 279h3v1h-3zM315 279h1v1h-1zM322 279h1v1h-1zM332 279h1v1h-1zM305 280h1v1h-1zM311 280h1v1h-1zM313 280h1v1h-1zM317 280h1v1h-1zM327 280h1v1h-1zM308 281h1v1h-1zM311 281h1v1h-1zM320 281h1v1h-1zM322 281h1v1h-1zM303 282h1v1h-1zM305 282h1v1h-1zM307 282h2v1h-2zM310 282h2v1h-2zM313 282h1v1h-1zM323 282h2v1h-2zM327 282h1v1h-1zM303 283h1v1h-1zM305 283h1v1h-1zM307 283h2v1h-2zM314 283h2v1h-2zM322 283h1v1h-1zM324 283h2v1h-2zM306 284h3v1h-3zM310 284h1v1h-1zM312 284h2v1h-2zM322 284h1v1h-1zM325 284h1v1h-1zM328 284h1v1h-1zM302 285h1v1h-1zM311 285h1v1h-1zM314 285h2v1h-2zM322 285h1v1h-1zM324 285h1v1h-1zM326 285h2v1h-2zM302 286h2v1h-2zM305 286h1v1h-1zM307 286h2v1h-2zM310 286h2v1h-2zM314 286h1v1h-1zM319 286h1v1h-1zM321 286h2v1h-2zM326 286h1v1h-1zM331 286h1v1h-1zM294 287h1v1h-1zM305 287h1v1h-1zM308 287h2v1h-2zM312 287h1v1h-1zM319 287h1v1h-1zM323 287h1v1h-1zM325 287h4v1h-4zM299 288h1v1h-1zM302 288h6v1h-6zM309 288h1v1h-1zM311 288h2v1h-2zM316 288h3v1h-3zM320 288h1v1h-1zM322 288h1v1h-1zM324 288h1v1h-1zM327 288h4v1h-4zM297 289h1v1h-1zM301 289h1v1h-1zM304 289h1v1h-1zM307 289h1v1h-1zM309 289h2v1h-2zM313 289h4v1h-4zM324 289h5v1h-5zM331 289h1v1h-1zM303 290h1v1h-1zM305 290h2v1h-2zM310 290h1v1h-1zM312 290h1v1h-1zM314 290h3v1h-3zM320 290h1v1h-1zM322 290h5v1h-5zM302 291h1v1h-1zM305 291h3v1h-3zM309 291h3v1h-3zM317 291h1v1h-1zM320 291h2v1h-2zM323 291h1v1h-1zM325 291h2v1h-2zM328 291h1v1h-1zM333 291h1v1h-1zM301 292h1v1h-1zM304 292h3v1h-3zM308 292h3v1h-3zM312 292h1v1h-1zM316 292h1v1h-1zM319 292h1v1h-1zM321 292h1v1h-1zM323 292h4v1h-4zM329 292h1v1h-1zM300 293h1v1h-1zM303 293h1v1h-1zM305 293h1v1h-1zM307 293h1v1h-1zM310 293h3v1h-3zM314 293h2v1h-2zM317 293h4v1h-4zM322 293h2v1h-2zM325 293h1v1h-1zM328 293h2v1h-2zM331 293h2v1h-2zM301 294h1v1h-1zM305 294h1v1h-1zM309 294h8v1h-8zM318 294h1v1h-1zM321 294h4v1h-4zM326 294h2v1h-2zM332 294h1v1h-1zM294 295h1v1h-1zM303 295h1v1h-1zM307 295h1v1h-1zM309 295h2v1h-2zM312 295h3v1h-3zM317 295h1v1h-1zM321 295h7v1h-7zM329 295h1v1h-1zM299 296h1v1h-1zM304 296h4v1h-4zM309 296h3v1h-3zM313 296h2v1h-2zM317 296h1v1h-1zM321 296h2v1h-2zM324 296h6v1h-6zM299 297h1v1h-1zM301 297h1v1h-1zM304 297h4v1h-4zM310 297h2v1h-2zM314 297h1v1h-1zM316 297h1v1h-1zM319 297h1v1h-1zM322 297h2v1h-2zM326 297h5v1h-5zM300 298h1v1h-1zM303 298h1v1h-1zM306 298h3v1h-3zM310 298h1v1h-1zM314 298h2v1h-2zM317 298h1v1h-1zM320 298h1v1h-1zM322 298h7v1h-7zM300 299h5v1h-5zM307 299h4v1h-4zM312 299h1v1h-1zM315 299h4v1h-4zM320 299h11v1h-11zM334 299h1v1h-1zM298 300h1v1h-1zM300 300h1v1h-1zM303 300h1v1h-1zM306 300h2v1h-2zM309 300h5v1h-5zM317 300h14v1h-14zM333 300h1v1h-1zM300 301h1v1h-1zM302 301h1v1h-1zM304 301h2v1h-2zM309 301h1v1h-1zM315 301h1v1h-1zM317 301h13v1h-13zM340 301h1v1h-1zM302 302h2v1h-2zM305 302h2v1h-2zM308 302h10v1h-10zM319 302h2v1h-2zM322 302h11v1h-11zM301 303h1v1h-1zM304 303h4v1h-4zM309 303h3v1h-3zM313 303h3v1h-3zM318 303h1v1h-1zM320 303h9v1h-9zM330 303h1v1h-1zM339 303h1v1h-1zM300 304h4v1h-4zM306 304h9v1h-9zM316 304h2v1h-2zM319 304h10v1h-10zM294 305h1v1h-1zM297 305h1v1h-1zM305 305h11v1h-11zM317 305h2v1h-2zM320 305h2v1h-2zM323 305h9v1h-9zM334 305h1v1h-1zM296 306h1v1h-1zM300 306h9v1h-9zM310 306h5v1h-5zM318 306h2v1h-2zM321 306h1v1h-1zM324 306h6v1h-6zM332 306h1v1h-1zM302 307h1v1h-1zM304 307h5v1h-5zM311 307h1v1h-1zM313 307h3v1h-3zM317 307h10v1h-10zM328 307h3v1h-3zM341 307h1v1h-1zM298 308h2v1h-2zM301 308h1v1h-1zM303 308h2v1h-2zM306 308h1v1h-1zM308 308h6v1h-6zM315 308h2v1h-2zM318 308h14v1h-14zM299 309h1v1h-1zM305 309h9v1h-9zM316 309h13v1h-13zM298 310h1v1h-1zM302 310h9v1h-9zM315 310h1v1h-1zM317 310h1v1h-1zM319 310h6v1h-6zM326 310h4v1h-4zM332 310h1v1h-1zM303 311h1v1h-1zM306 311h1v1h-1zM308 311h6v1h-6zM315 311h2v1h-2zM318 311h1v1h-1zM320 311h10v1h-10zM334 311h1v1h-1zM338 311h1v1h-1zM299 312h1v1h-1zM302 312h2v1h-2zM305 312h4v1h-4zM310 312h1v1h-1zM313 312h2v1h-2zM316 312h15v1h-15zM301 313h1v1h-1zM304 313h1v1h-1zM307 313h1v1h-1zM309 313h3v1h-3zM313 313h1v1h-1zM316 313h13v1h-13zM330 313h1v1h-1zM299 314h1v1h-1zM301 314h4v1h-4zM306 314h7v1h-7zM316 314h1v1h-1zM318 314h8v1h-8zM327 314h3v1h-3zM303 315h5v1h-5zM309 315h5v1h-5zM315 315h2v1h-2zM320 315h10v1h-10zM300 316h1v1h-1zM303 316h2v1h-2zM306 316h4v1h-4zM311 316h1v1h-1zM315 316h2v1h-2zM319 316h1v1h-1zM321 316h9v1h-9zM339 316h1v1h-1zM301 317h2v1h-2zM304 317h1v1h-1zM307 317h5v1h-5zM313 317h3v1h-3zM319 317h2v1h-2zM322 317h8v1h-8zM331 317h1v1h-1zM301 318h3v1h-3zM307 318h3v1h-3zM311 318h2v1h-2zM314 318h1v1h-1zM317 318h1v1h-1zM319 318h1v1h-1zM321 318h9v1h-9zM340 318h1v1h-1zM301 319h1v1h-1zM305 319h2v1h-2zM309 319h1v1h-1zM312 319h2v1h-2zM316 319h2v1h-2zM319 319h12v1h-12zM332 319h1v1h-1zM335 319h1v1h-1zM303 320h5v1h-5zM309 320h3v1h-3zM313 320h2v1h-2zM318 320h9v1h-9zM331 320h2v1h-2zM301 321h1v1h-1zM303 321h1v1h-1zM305 321h2v1h-2zM308 321h1v1h-1zM310 321h5v1h-5zM317 321h2v1h-2zM320 321h2v1h-2zM323 321h8v1h-8zM303 322h1v1h-1zM309 322h4v1h-4zM318 322h1v1h-1zM321 322h3v1h-3zM325 322h1v1h-1zM328 322h3v1h-3zM303 323h9v1h-9zM313 323h3v1h-3zM319 323h7v1h-7zM327 323h5v1h-5zM302 324h2v1h-2zM305 324h1v1h-1zM307 324h5v1h-5zM313 324h1v1h-1zM316 324h1v1h-1zM318 324h4v1h-4zM323 324h4v1h-4zM328 324h1v1h-1zM305 325h1v1h-1zM308 325h2v1h-2zM311 325h4v1h-4zM318 325h1v1h-1zM322 325h2v1h-2zM325 325h1v1h-1zM303 326h3v1h-3zM308 326h4v1h-4zM320 326h5v1h-5zM326 326h3v1h-3zM301 327h2v1h-2zM305 327h2v1h-2zM309 327h1v1h-1zM311 327h4v1h-4zM317 327h1v1h-1zM322 327h4v1h-4zM327 327h4v1h-4zM305 328h3v1h-3zM309 328h1v1h-1zM311 328h2v1h-2zM314 328h1v1h-1zM316 328h1v1h-1zM322 328h1v1h-1zM325 328h2v1h-2zM298 329h1v1h-1zM302 329h1v1h-1zM304 329h2v1h-2zM307 329h5v1h-5zM314 329h2v1h-2zM321 329h7v1h-7zM307 330h1v1h-1zM312 330h1v1h-1zM315 330h1v1h-1zM317 330h1v1h-1zM321 330h2v1h-2zM324 330h2v1h-2zM327 330h2v1h-2zM333 330h1v1h-1zM307 331h3v1h-3zM312 331h1v1h-1zM322 331h5v1h-5zM328 331h1v1h-1zM306 332h3v1h-3zM312 332h1v1h-1zM320 332h6v1h-6zM329 332h1v1h-1zM302 333h1v1h-1zM305 333h2v1h-2zM309 333h1v1h-1zM311 333h1v1h-1zM315 333h1v1h-1zM326 333h1v1h-1zM307 334h1v1h-1zM310 334h1v1h-1zM314 334h1v1h-1zM320 334h3v1h-3zM304 335h1v1h-1zM308 335h5v1h-5zM314 335h1v1h-1zM318 335h1v1h-1zM322 335h1v1h-1zM326 335h1v1h-1zM305 336h1v1h-1zM311 336h1v1h-1zM318 336h1v1h-1zM323 336h1v1h-1zM329 336h1v1h-1zM309 337h2v1h-2zM316 337h1v1h-1zM324 337h1v1h-1zM327 337h1v1h-1zM305 339h1v1h-1zM308 339h2v1h-2zM322 339h3v1h-3zM316 341h1v1h-1z" fill="#000"/>
<rect x="259.70" y="216.80" width="142.80" height="130.00" stroke="#555" stroke-width="1.5" fill="none"/>
<line x1="251.70" y1="259.00" x2="259.70" y2="259.00" stroke="#000" stroke-width="1.1"/>
<line x1="255.70" y1="250.15" x2="259.70" y2="250.15" stroke="#000" stroke-width="1.1"/>
<line x1="255.70" y1="244.97" x2="259.70" y2="244.97" stroke="#000" stroke-width="1.1"/>
<line x1="255.70" y1="241.30" x2="259.70" y2="241.30" stroke="#000" stroke-width="1.1"/>
<line x1="255.70" y1="238.45" x2="259.70" y2="238.45" stroke="#000" stroke-width="1.1"/>
<line x1="255.70" y1="236.12" x2="259.70" y2="236.12" stroke="#000" stroke-width="1.1"/>
<line x1="255.70" y1="234.15" x2="259.70" y2="234.15" stroke="#000" stroke-width="1.1"/>
<line x1="255.70" y1="232.45" x2="259.70" y2="232.45" stroke="#000" stroke-width="1.1"/>
<line x1="255.70" y1="230.95" x2="259.70" y2="230.95" stroke="#000" stroke-width="1.1"/>
<line x1="251.70" y1="295.30" x2="259.70" y2="295.30" stroke="#000" stroke-width="1.1"/>
<line x1="255.70" y1="284.37" x2="259.70" y2="284.37" stroke="#000" stroke-width="1.1"/>
<line x1="255.70" y1="277.98" x2="259.70" y2="277.98" stroke="#000" stroke-width="1.1"/>
<line x1="255.70" y1="273.45" x2="259.70" y2="273.45" stroke="#000" stroke-width="1.1"/>
<line x1="255.70" y1="269.93" x2="259.70" y2="269.93" stroke="#000" stroke-width="1.1"/>
<line x1="255.70" y1="267.05" x2="259.70" y2="267.05" stroke="#000" stroke-width="1.1"/>
<line x1="255.70" y1="264.62" x2="259.70" y2="264.62" stroke="#000" stroke-width="1.1"/>
<line x1="255.70" y1="262.52" x2="259.70" y2="262.52" stroke="#000" stroke-width="1.1"/>
<line x1="255.70" y1="260.66" x2="259.70" y2="260.66" stroke="#000" stroke-width="1.1"/>
<line x1="251.70" y1="229.60" x2="259.70" y2="229.60" stroke="#000" stroke-width="1.1"/>
<line x1="255.70" y1="220.75" x2="259.70" y2="220.75" stroke="#000" stroke-width="1.1"/>
<line x1="255.70" y1="313.48" x2="259.70" y2="313.48" stroke="#000" stroke-width="1.1"/>
<line x1="255.70" y1="316.85" x2="259.70" y2="316.85" stroke="#000" stroke-width="1.1"/>
<line x1="255.70" y1="311.46" x2="259.70" y2="311.46" stroke="#000" stroke-width="1.1"/>
<line x1="255.70" y1="318.20" x2="259.70" y2="318.20" stroke="#000" stroke-width="1.1"/>
<line x1="255.70" y1="309.44" x2="259.70" y2="309.44" stroke="#000" stroke-width="1.1"/>
<line x1="255.70" y1="319.55" x2="259.70" y2="319.55" stroke="#000" stroke-width="1.1"/>
<line x1="255.70" y1="307.42" x2="259.70" y2="307.42" stroke="#000" stroke-width="1.1"/>
<line x1="255.70" y1="320.90" x2="259.70" y2="320.90" stroke="#000" stroke-width="1.1"/>
<line x1="255.70" y1="305.40" x2="259.70" y2="305.40" stroke="#000" stroke-width="1.1"/>
<line x1="255.70" y1="322.25" x2="259.70" y2="322.25" stroke="#000" stroke-width="1.1"/>
<line x1="255.70" y1="303.38" x2="259.70" y2="303.38" stroke="#000" stroke-width="1.1"/>
<line x1="255.70" y1="323.60" x2="259.70" y2="323.60" stroke="#000" stroke-width="1.1"/>
<line x1="255.70" y1="301.36" x2="259.70" y2="301.36" stroke="#000" stroke-width="1.1"/>
<line x1="255.70" y1="324.95" x2="259.70" y2="324.95" stroke="#000" stroke-width="1.1"/>
<line x1="255.70" y1="299.34" x2="259.70" y2="299.34" stroke="#000" stroke-width="1.1"/>
<line x1="255.70" y1="326.30" x2="259.70" y2="326.30" stroke="#000" stroke-width="1.1"/>
<line x1="255.70" y1="297.32" x2="259.70" y2="297.32" stroke="#000" stroke-width="1.1"/>
<line x1="255.70" y1="327.65" x2="259.70" y2="327.65" stroke="#000" stroke-width="1.1"/>
<line x1="251.70" y1="315.50" x2="259.70" y2="315.50" stroke="#000" stroke-width="1.1"/>
<line x1="251.70" y1="329.00" x2="259.70" y2="329.00" stroke="#000" stroke-width="1.1"/>
<line x1="255.70" y1="342.50" x2="259.70" y2="342.50" stroke="#000" stroke-width="1.1"/>
<text transform="translate(251.92,234.14) rotate(-90) scale(0.750,1)" font-size="8.34" font-weight="bold" fill="#000">10</text>
<text transform="translate(246.63,227.20) rotate(-90) scale(0.984,1)" font-size="6.74" font-weight="bold" fill="#000">5</text>
<text transform="translate(251.92,263.54) rotate(-90) scale(0.750,1)" font-size="8.34" font-weight="bold" fill="#000">10</text>
<text transform="translate(246.70,256.49) rotate(-90) scale(0.902,1)" font-size="6.84" font-weight="bold" fill="#000">4</text>
<text transform="translate(251.92,299.84) rotate(-90) scale(0.750,1)" font-size="8.34" font-weight="bold" fill="#000">10</text>
<text transform="translate(246.62,292.85) rotate(-90) scale(1.002,1)" font-size="6.62" font-weight="bold" fill="#000">3</text>
<text transform="translate(252.42,317.25) rotate(-90) scale(0.770,1)" font-size="8.20" font-weight="bold" fill="#000">0</text>
<line x1="316.00" y1="346.80" x2="316.00" y2="353.30" stroke="#000" stroke-width="1.1"/>
<line x1="326.87" y1="346.80" x2="326.87" y2="350.80" stroke="#000" stroke-width="1.1"/>
<line x1="333.22" y1="346.80" x2="333.22" y2="350.80" stroke="#000" stroke-width="1.1"/>
<line x1="337.73" y1="346.80" x2="337.73" y2="350.80" stroke="#000" stroke-width="1.1"/>
<line x1="341.23" y1="346.80" x2="341.23" y2="350.80" stroke="#000" stroke-width="1.1"/>
<line x1="344.09" y1="346.80" x2="344.09" y2="350.80" stroke="#000" stroke-width="1.1"/>
<line x1="346.51" y1="346.80" x2="346.51" y2="350.80" stroke="#000" stroke-width="1.1"/>
<line x1="348.60" y1="346.80" x2="348.60" y2="350.80" stroke="#000" stroke-width="1.1"/>
<line x1="350.45" y1="346.80" x2="350.45" y2="350.80" stroke="#000" stroke-width="1.1"/>
<line x1="352.10" y1="346.80" x2="352.10" y2="353.30" stroke="#000" stroke-width="1.1"/>
<line x1="362.88" y1="346.80" x2="362.88" y2="350.80" stroke="#000" stroke-width="1.1"/>
<line x1="369.18" y1="346.80" x2="369.18" y2="350.80" stroke="#000" stroke-width="1.1"/>
<line x1="373.65" y1="346.80" x2="373.65" y2="350.80" stroke="#000" stroke-width="1.1"/>
<line x1="377.12" y1="346.80" x2="377.12" y2="350.80" stroke="#000" stroke-width="1.1"/>
<line x1="379.96" y1="346.80" x2="379.96" y2="350.80" stroke="#000" stroke-width="1.1"/>
<line x1="382.35" y1="346.80" x2="382.35" y2="350.80" stroke="#000" stroke-width="1.1"/>
<line x1="384.43" y1="346.80" x2="384.43" y2="350.80" stroke="#000" stroke-width="1.1"/>
<line x1="386.26" y1="346.80" x2="386.26" y2="350.80" stroke="#000" stroke-width="1.1"/>
<line x1="387.90" y1="346.80" x2="387.90" y2="353.30" stroke="#000" stroke-width="1.1"/>
<line x1="398.68" y1="346.80" x2="398.68" y2="350.80" stroke="#000" stroke-width="1.1"/>
<line x1="279.90" y1="346.80" x2="279.90" y2="353.30" stroke="#000" stroke-width="1.1"/>
<line x1="290.77" y1="346.80" x2="290.77" y2="350.80" stroke="#000" stroke-width="1.1"/>
<line x1="297.12" y1="346.80" x2="297.12" y2="350.80" stroke="#000" stroke-width="1.1"/>
<line x1="301.63" y1="346.80" x2="301.63" y2="350.80" stroke="#000" stroke-width="1.1"/>
<line x1="305.13" y1="346.80" x2="305.13" y2="350.80" stroke="#000" stroke-width="1.1"/>
<line x1="307.99" y1="346.80" x2="307.99" y2="350.80" stroke="#000" stroke-width="1.1"/>
<line x1="310.41" y1="346.80" x2="310.41" y2="350.80" stroke="#000" stroke-width="1.1"/>
<line x1="312.50" y1="346.80" x2="312.50" y2="350.80" stroke="#000" stroke-width="1.1"/>
<line x1="314.35" y1="346.80" x2="314.35" y2="350.80" stroke="#000" stroke-width="1.1"/>
<line x1="265.53" y1="346.80" x2="265.53" y2="350.80" stroke="#000" stroke-width="1.1"/>
<line x1="269.03" y1="346.80" x2="269.03" y2="350.80" stroke="#000" stroke-width="1.1"/>
<line x1="271.89" y1="346.80" x2="271.89" y2="350.80" stroke="#000" stroke-width="1.1"/>
<line x1="274.31" y1="346.80" x2="274.31" y2="350.80" stroke="#000" stroke-width="1.1"/>
<line x1="276.40" y1="346.80" x2="276.40" y2="350.80" stroke="#000" stroke-width="1.1"/>
<line x1="278.25" y1="346.80" x2="278.25" y2="350.80" stroke="#000" stroke-width="1.1"/>
<text transform="translate(273.44,362.21) scale(1.019,1)" font-size="8.76" font-weight="bold" fill="#000">10</text>
<text transform="translate(282.77,357.30) scale(0.984,1)" font-size="6.74" font-weight="bold" fill="#000">2</text>
<text transform="translate(309.44,362.21) scale(1.019,1)" font-size="8.76" font-weight="bold" fill="#000">10</text>
<text transform="translate(318.86,357.22) scale(0.972,1)" font-size="6.62" font-weight="bold" fill="#000">3</text>
<text transform="translate(345.54,362.21) scale(1.019,1)" font-size="8.76" font-weight="bold" fill="#000">10</text>
<text transform="translate(355.01,357.30) scale(0.875,1)" font-size="6.84" font-weight="bold" fill="#000">4</text>
<text transform="translate(381.34,362.21) scale(1.019,1)" font-size="8.76" font-weight="bold" fill="#000">10</text>
<text transform="translate(390.71,357.23) scale(0.955,1)" font-size="6.74" font-weight="bold" fill="#000">5</text>
<rect x="295.20" y="225.10" width="26.30" height="35.70" stroke="#4f88c6" stroke-width="1.5" fill="none"/>
<rect x="292.70" y="282.90" width="26.90" height="51.60" stroke="#111" stroke-width="1.6" fill="none"/>
<rect x="319.60" y="282.90" width="23.00" height="51.60" stroke="#d63a44" stroke-width="1.5" fill="none"/>
<text transform="translate(236.56,299.77) rotate(-90) scale(0.828,1)" font-size="14.13" font-weight="bold" fill="#000">CD8</text>
<text transform="translate(309.54,379.88) scale(0.972,1)" font-size="11.73" font-weight="bold" fill="#000">CD4</text>
<text transform="translate(335.37,241.67) scale(0.994,1)" font-size="10.14" font-weight="bold" fill="#000">32.2%</text>
<text transform="translate(355.25,301.70) scale(1.072,1)" font-size="9.61" font-weight="bold" fill="#000">49.9%</text>
<text transform="translate(263.34,337.23) scale(1.242,1)" font-size="8.21" font-weight="bold" fill="#000">27,1%</text>
<line x1="390.70" y1="216.40" x2="395.70" y2="216.40" stroke="#333" stroke-width="1.6"/>
<path d="M501 232h1v1h-1zM516 232h1v1h-1zM513 234h1v1h-1zM515 234h5v1h-5zM536 234h1v1h-1zM512 235h5v1h-5zM518 235h1v1h-1zM521 235h1v1h-1zM510 236h1v1h-1zM512 236h6v1h-6zM520 236h1v1h-1zM509 237h2v1h-2zM512 237h3v1h-3zM516 237h7v1h-7zM509 238h11v1h-11zM521 238h1v1h-1zM523 238h1v1h-1zM525 238h1v1h-1zM529 238h1v1h-1zM508 239h16v1h-16zM526 239h1v1h-1zM506 240h1v1h-1zM509 240h1v1h-1zM511 240h14v1h-14zM526 240h1v1h-1zM508 241h19v1h-19zM508 242h18v1h-18zM509 243h17v1h-17zM508 244h17v1h-17zM526 244h1v1h-1zM507 245h20v1h-20zM508 246h18v1h-18zM508 247h19v1h-19zM536 247h1v1h-1zM507 248h20v1h-20zM543 248h1v1h-1zM507 249h20v1h-20zM528 249h1v1h-1zM507 250h2v1h-2zM510 250h16v1h-16zM528 250h1v1h-1zM531 250h1v1h-1zM507 251h12v1h-12zM520 251h4v1h-4zM525 251h3v1h-3zM509 252h18v1h-18zM508 253h1v1h-1zM510 253h17v1h-17zM509 254h18v1h-18zM534 254h1v1h-1zM510 255h9v1h-9zM520 255h4v1h-4zM525 255h1v1h-1zM536 255h1v1h-1zM509 256h15v1h-15zM525 256h1v1h-1zM508 257h11v1h-11zM520 257h2v1h-2zM510 258h10v1h-10zM522 258h1v1h-1zM525 258h1v1h-1zM511 259h3v1h-3zM515 259h3v1h-3zM521 259h2v1h-2zM528 259h1v1h-1zM513 260h3v1h-3zM518 260h1v1h-1zM520 260h1v1h-1zM510 261h1v1h-1zM514 261h1v1h-1zM514 262h2v1h-2zM519 262h1v1h-1zM513 263h1v1h-1zM508 264h1v1h-1zM514 264h1v1h-1zM521 264h1v1h-1zM524 264h1v1h-1zM515 265h1v1h-1zM519 265h1v1h-1zM511 266h2v1h-2zM515 266h1v1h-1zM517 266h5v1h-5zM510 267h1v1h-1zM514 267h3v1h-3zM518 267h2v1h-2zM537 267h1v1h-1zM510 268h1v1h-1zM512 268h1v1h-1zM515 268h1v1h-1zM520 268h3v1h-3zM511 269h1v1h-1zM514 269h2v1h-2zM523 269h1v1h-1zM519 270h1v1h-1zM522 270h1v1h-1zM510 271h4v1h-4zM516 271h1v1h-1zM518 271h1v1h-1zM541 271h1v1h-1zM544 271h1v1h-1zM506 272h1v1h-1zM513 272h2v1h-2zM516 272h2v1h-2zM519 272h2v1h-2zM501 273h1v1h-1zM511 273h2v1h-2zM516 273h1v1h-1zM518 273h1v1h-1zM520 273h1v1h-1zM530 273h1v1h-1zM510 274h1v1h-1zM513 274h1v1h-1zM517 274h2v1h-2zM520 274h1v1h-1zM512 275h1v1h-1zM518 275h1v1h-1zM521 275h1v1h-1zM514 276h1v1h-1zM516 276h1v1h-1zM519 276h3v1h-3zM523 276h1v1h-1zM528 276h1v1h-1zM530 276h1v1h-1zM511 277h1v1h-1zM513 277h1v1h-1zM517 277h1v1h-1zM519 277h1v1h-1zM522 277h2v1h-2zM533 277h1v1h-1zM504 278h1v1h-1zM513 278h1v1h-1zM517 278h1v1h-1zM532 278h2v1h-2zM518 279h2v1h-2zM521 279h1v1h-1zM527 279h1v1h-1zM530 279h1v1h-1zM532 279h2v1h-2zM535 279h1v1h-1zM515 280h1v1h-1zM518 280h1v1h-1zM528 280h1v1h-1zM531 280h4v1h-4zM537 280h1v1h-1zM511 281h1v1h-1zM515 281h1v1h-1zM517 281h1v1h-1zM526 281h1v1h-1zM528 281h2v1h-2zM531 281h4v1h-4zM536 281h1v1h-1zM509 282h1v1h-1zM511 282h1v1h-1zM520 282h1v1h-1zM528 282h9v1h-9zM540 282h2v1h-2zM515 283h1v1h-1zM526 283h4v1h-4zM531 283h4v1h-4zM537 283h1v1h-1zM519 284h1v1h-1zM521 284h1v1h-1zM526 284h11v1h-11zM538 284h1v1h-1zM510 285h1v1h-1zM514 285h1v1h-1zM523 285h1v1h-1zM525 285h13v1h-13zM508 286h1v1h-1zM518 286h1v1h-1zM525 286h12v1h-12zM542 286h1v1h-1zM521 287h1v1h-1zM527 287h9v1h-9zM539 287h1v1h-1zM517 288h1v1h-1zM524 288h15v1h-15zM504 289h1v1h-1zM516 289h2v1h-2zM521 289h1v1h-1zM523 289h16v1h-16zM510 290h3v1h-3zM514 290h1v1h-1zM523 290h1v1h-1zM525 290h14v1h-14zM540 290h1v1h-1zM512 291h1v1h-1zM514 291h1v1h-1zM517 291h1v1h-1zM520 291h1v1h-1zM523 291h16v1h-16zM516 292h1v1h-1zM519 292h1v1h-1zM523 292h17v1h-17zM541 292h2v1h-2zM502 293h1v1h-1zM515 293h3v1h-3zM523 293h17v1h-17zM507 294h1v1h-1zM511 294h2v1h-2zM518 294h2v1h-2zM523 294h17v1h-17zM514 295h2v1h-2zM523 295h18v1h-18zM512 296h1v1h-1zM517 296h1v1h-1zM523 296h16v1h-16zM500 297h1v1h-1zM504 297h1v1h-1zM514 297h1v1h-1zM516 297h1v1h-1zM524 297h14v1h-14zM539 297h1v1h-1zM507 298h1v1h-1zM510 298h1v1h-1zM513 298h1v1h-1zM516 298h1v1h-1zM523 298h18v1h-18zM504 299h1v1h-1zM510 299h1v1h-1zM514 299h1v1h-1zM516 299h1v1h-1zM519 299h1v1h-1zM523 299h17v1h-17zM504 300h1v1h-1zM508 300h2v1h-2zM512 300h4v1h-4zM518 300h1v1h-1zM522 300h20v1h-20zM512 301h1v1h-1zM516 301h1v1h-1zM518 301h1v1h-1zM523 301h18v1h-18zM513 302h1v1h-1zM517 302h1v1h-1zM521 302h19v1h-19zM510 303h1v1h-1zM520 303h2v1h-2zM523 303h18v1h-18zM508 304h1v1h-1zM510 304h1v1h-1zM514 304h1v1h-1zM519 304h2v1h-2zM524 304h17v1h-17zM517 305h1v1h-1zM522 305h19v1h-19zM516 306h1v1h-1zM524 306h17v1h-17zM508 307h3v1h-3zM515 307h1v1h-1zM523 307h17v1h-17zM514 308h1v1h-1zM523 308h1v1h-1zM525 308h16v1h-16zM509 309h1v1h-1zM511 309h2v1h-2zM515 309h2v1h-2zM522 309h18v1h-18zM511 310h1v1h-1zM514 310h3v1h-3zM519 310h1v1h-1zM523 310h17v1h-17zM506 311h1v1h-1zM512 311h1v1h-1zM519 311h2v1h-2zM523 311h18v1h-18zM544 311h1v1h-1zM515 312h1v1h-1zM523 312h14v1h-14zM538 312h3v1h-3zM517 313h1v1h-1zM523 313h16v1h-16zM500 314h1v1h-1zM512 314h1v1h-1zM514 314h1v1h-1zM523 314h17v1h-17zM514 315h1v1h-1zM520 315h1v1h-1zM522 315h19v1h-19zM511 316h1v1h-1zM517 316h1v1h-1zM519 316h1v1h-1zM524 316h15v1h-15zM546 316h1v1h-1zM502 317h1v1h-1zM514 317h1v1h-1zM525 317h15v1h-15zM542 317h1v1h-1zM510 318h1v1h-1zM521 318h1v1h-1zM524 318h14v1h-14zM546 318h1v1h-1zM518 319h1v1h-1zM523 319h17v1h-17zM503 320h1v1h-1zM512 320h1v1h-1zM524 320h14v1h-14zM540 320h1v1h-1zM500 321h1v1h-1zM511 321h1v1h-1zM514 321h1v1h-1zM526 321h13v1h-13zM511 322h1v1h-1zM515 322h1v1h-1zM517 322h1v1h-1zM524 322h15v1h-15zM498 323h1v1h-1zM511 323h1v1h-1zM517 323h1v1h-1zM519 323h1v1h-1zM524 323h14v1h-14zM508 324h1v1h-1zM516 324h1v1h-1zM526 324h13v1h-13zM511 325h1v1h-1zM521 325h1v1h-1zM526 325h11v1h-11zM521 326h1v1h-1zM526 326h9v1h-9zM537 326h1v1h-1zM500 327h1v1h-1zM508 327h1v1h-1zM514 327h1v1h-1zM519 327h1v1h-1zM526 327h1v1h-1zM528 327h10v1h-10zM527 328h7v1h-7zM535 328h2v1h-2zM524 329h1v1h-1zM527 329h3v1h-3zM531 329h4v1h-4zM537 329h1v1h-1zM528 330h3v1h-3zM533 330h3v1h-3zM528 331h1v1h-1zM530 331h4v1h-4zM535 331h1v1h-1zM531 332h1v1h-1zM533 333h1v1h-1zM532 334h1v1h-1zM531 335h1v1h-1z" fill="#000"/>
<rect x="466.70" y="219.20" width="137.70" height="125.10" stroke="#555" stroke-width="1.5" fill="none"/>
<line x1="458.70" y1="259.80" x2="466.70" y2="259.80" stroke="#000" stroke-width="1.1"/>
<line x1="462.70" y1="251.19" x2="466.70" y2="251.19" stroke="#000" stroke-width="1.1"/>
<line x1="462.70" y1="246.15" x2="466.70" y2="246.15" stroke="#000" stroke-width="1.1"/>
<line x1="462.70" y1="242.58" x2="466.70" y2="242.58" stroke="#000" stroke-width="1.1"/>
<line x1="462.70" y1="239.81" x2="466.70" y2="239.81" stroke="#000" stroke-width="1.1"/>
<line x1="462.70" y1="237.54" x2="466.70" y2="237.54" stroke="#000" stroke-width="1.1"/>
<line x1="462.70" y1="235.63" x2="466.70" y2="235.63" stroke="#000" stroke-width="1.1"/>
<line x1="462.70" y1="233.97" x2="466.70" y2="233.97" stroke="#000" stroke-width="1.1"/>
<line x1="462.70" y1="232.51" x2="466.70" y2="232.51" stroke="#000" stroke-width="1.1"/>
<line x1="458.70" y1="294.40" x2="466.70" y2="294.40" stroke="#000" stroke-width="1.1"/>
<line x1="462.70" y1="283.98" x2="466.70" y2="283.98" stroke="#000" stroke-width="1.1"/>
<line x1="462.70" y1="277.89" x2="466.70" y2="277.89" stroke="#000" stroke-width="1.1"/>
<line x1="462.70" y1="273.57" x2="466.70" y2="273.57" stroke="#000" stroke-width="1.1"/>
<line x1="462.70" y1="270.22" x2="466.70" y2="270.22" stroke="#000" stroke-width="1.1"/>
<line x1="462.70" y1="267.48" x2="466.70" y2="267.48" stroke="#000" stroke-width="1.1"/>
<line x1="462.70" y1="265.16" x2="466.70" y2="265.16" stroke="#000" stroke-width="1.1"/>
<line x1="462.70" y1="263.15" x2="466.70" y2="263.15" stroke="#000" stroke-width="1.1"/>
<line x1="462.70" y1="261.38" x2="466.70" y2="261.38" stroke="#000" stroke-width="1.1"/>
<line x1="458.70" y1="231.20" x2="466.70" y2="231.20" stroke="#000" stroke-width="1.1"/>
<line x1="462.70" y1="222.59" x2="466.70" y2="222.59" stroke="#000" stroke-width="1.1"/>
<line x1="462.70" y1="313.39" x2="466.70" y2="313.39" stroke="#000" stroke-width="1.1"/>
<line x1="462.70" y1="316.85" x2="466.70" y2="316.85" stroke="#000" stroke-width="1.1"/>
<line x1="462.70" y1="311.28" x2="466.70" y2="311.28" stroke="#000" stroke-width="1.1"/>
<line x1="462.70" y1="318.20" x2="466.70" y2="318.20" stroke="#000" stroke-width="1.1"/>
<line x1="462.70" y1="309.17" x2="466.70" y2="309.17" stroke="#000" stroke-width="1.1"/>
<line x1="462.70" y1="319.55" x2="466.70" y2="319.55" stroke="#000" stroke-width="1.1"/>
<line x1="462.70" y1="307.06" x2="466.70" y2="307.06" stroke="#000" stroke-width="1.1"/>
<line x1="462.70" y1="320.90" x2="466.70" y2="320.90" stroke="#000" stroke-width="1.1"/>
<line x1="462.70" y1="304.95" x2="466.70" y2="304.95" stroke="#000" stroke-width="1.1"/>
<line x1="462.70" y1="322.25" x2="466.70" y2="322.25" stroke="#000" stroke-width="1.1"/>
<line x1="462.70" y1="302.84" x2="466.70" y2="302.84" stroke="#000" stroke-width="1.1"/>
<line x1="462.70" y1="323.60" x2="466.70" y2="323.60" stroke="#000" stroke-width="1.1"/>
<line x1="462.70" y1="300.73" x2="466.70" y2="300.73" stroke="#000" stroke-width="1.1"/>
<line x1="462.70" y1="324.95" x2="466.70" y2="324.95" stroke="#000" stroke-width="1.1"/>
<line x1="462.70" y1="298.62" x2="466.70" y2="298.62" stroke="#000" stroke-width="1.1"/>
<line x1="462.70" y1="326.30" x2="466.70" y2="326.30" stroke="#000" stroke-width="1.1"/>
<line x1="462.70" y1="296.51" x2="466.70" y2="296.51" stroke="#000" stroke-width="1.1"/>
<line x1="462.70" y1="327.65" x2="466.70" y2="327.65" stroke="#000" stroke-width="1.1"/>
<line x1="458.70" y1="315.50" x2="466.70" y2="315.50" stroke="#000" stroke-width="1.1"/>
<line x1="458.70" y1="329.00" x2="466.70" y2="329.00" stroke="#000" stroke-width="1.1"/>
<line x1="462.70" y1="342.50" x2="466.70" y2="342.50" stroke="#000" stroke-width="1.1"/>
<text transform="translate(459.02,235.52) rotate(-90) scale(0.740,1)" font-size="7.92" font-weight="bold" fill="#000">10</text>
<text transform="translate(453.74,228.80) rotate(-90) scale(1.052,1)" font-size="6.31" font-weight="bold" fill="#000">5</text>
<text transform="translate(459.02,264.12) rotate(-90) scale(0.740,1)" font-size="7.92" font-weight="bold" fill="#000">10</text>
<text transform="translate(453.80,257.29) rotate(-90) scale(0.964,1)" font-size="6.40" font-weight="bold" fill="#000">4</text>
<text transform="translate(459.02,298.72) rotate(-90) scale(0.740,1)" font-size="7.92" font-weight="bold" fill="#000">10</text>
<text transform="translate(453.72,291.95) rotate(-90) scale(1.070,1)" font-size="6.20" font-weight="bold" fill="#000">3</text>
<text transform="translate(459.72,317.25) rotate(-90) scale(0.798,1)" font-size="7.92" font-weight="bold" fill="#000">0</text>
<line x1="521.30" y1="344.30" x2="521.30" y2="350.80" stroke="#000" stroke-width="1.1"/>
<line x1="531.69" y1="344.30" x2="531.69" y2="348.30" stroke="#000" stroke-width="1.1"/>
<line x1="537.76" y1="344.30" x2="537.76" y2="348.30" stroke="#000" stroke-width="1.1"/>
<line x1="542.07" y1="344.30" x2="542.07" y2="348.30" stroke="#000" stroke-width="1.1"/>
<line x1="545.41" y1="344.30" x2="545.41" y2="348.30" stroke="#000" stroke-width="1.1"/>
<line x1="548.15" y1="344.30" x2="548.15" y2="348.30" stroke="#000" stroke-width="1.1"/>
<line x1="550.46" y1="344.30" x2="550.46" y2="348.30" stroke="#000" stroke-width="1.1"/>
<line x1="552.46" y1="344.30" x2="552.46" y2="348.30" stroke="#000" stroke-width="1.1"/>
<line x1="554.22" y1="344.30" x2="554.22" y2="348.30" stroke="#000" stroke-width="1.1"/>
<line x1="555.80" y1="344.30" x2="555.80" y2="350.80" stroke="#000" stroke-width="1.1"/>
<line x1="566.43" y1="344.30" x2="566.43" y2="348.30" stroke="#000" stroke-width="1.1"/>
<line x1="572.64" y1="344.30" x2="572.64" y2="348.30" stroke="#000" stroke-width="1.1"/>
<line x1="577.05" y1="344.30" x2="577.05" y2="348.30" stroke="#000" stroke-width="1.1"/>
<line x1="580.47" y1="344.30" x2="580.47" y2="348.30" stroke="#000" stroke-width="1.1"/>
<line x1="583.27" y1="344.30" x2="583.27" y2="348.30" stroke="#000" stroke-width="1.1"/>
<line x1="585.63" y1="344.30" x2="585.63" y2="348.30" stroke="#000" stroke-width="1.1"/>
<line x1="587.68" y1="344.30" x2="587.68" y2="348.30" stroke="#000" stroke-width="1.1"/>
<line x1="589.48" y1="344.30" x2="589.48" y2="348.30" stroke="#000" stroke-width="1.1"/>
<line x1="591.10" y1="344.30" x2="591.10" y2="350.80" stroke="#000" stroke-width="1.1"/>
<line x1="601.73" y1="344.30" x2="601.73" y2="348.30" stroke="#000" stroke-width="1.1"/>
<line x1="486.80" y1="344.30" x2="486.80" y2="350.80" stroke="#000" stroke-width="1.1"/>
<line x1="497.19" y1="344.30" x2="497.19" y2="348.30" stroke="#000" stroke-width="1.1"/>
<line x1="503.26" y1="344.30" x2="503.26" y2="348.30" stroke="#000" stroke-width="1.1"/>
<line x1="507.57" y1="344.30" x2="507.57" y2="348.30" stroke="#000" stroke-width="1.1"/>
<line x1="510.91" y1="344.30" x2="510.91" y2="348.30" stroke="#000" stroke-width="1.1"/>
<line x1="513.65" y1="344.30" x2="513.65" y2="348.30" stroke="#000" stroke-width="1.1"/>
<line x1="515.96" y1="344.30" x2="515.96" y2="348.30" stroke="#000" stroke-width="1.1"/>
<line x1="517.96" y1="344.30" x2="517.96" y2="348.30" stroke="#000" stroke-width="1.1"/>
<line x1="519.72" y1="344.30" x2="519.72" y2="348.30" stroke="#000" stroke-width="1.1"/>
<line x1="468.76" y1="344.30" x2="468.76" y2="348.30" stroke="#000" stroke-width="1.1"/>
<line x1="473.07" y1="344.30" x2="473.07" y2="348.30" stroke="#000" stroke-width="1.1"/>
<line x1="476.41" y1="344.30" x2="476.41" y2="348.30" stroke="#000" stroke-width="1.1"/>
<line x1="479.15" y1="344.30" x2="479.15" y2="348.30" stroke="#000" stroke-width="1.1"/>
<line x1="481.46" y1="344.30" x2="481.46" y2="348.30" stroke="#000" stroke-width="1.1"/>
<line x1="483.46" y1="344.30" x2="483.46" y2="348.30" stroke="#000" stroke-width="1.1"/>
<line x1="485.22" y1="344.30" x2="485.22" y2="348.30" stroke="#000" stroke-width="1.1"/>
<text transform="translate(480.10,359.22) scale(0.998,1)" font-size="8.06" font-weight="bold" fill="#000">10</text>
<text transform="translate(488.57,354.70) scale(1.101,1)" font-size="6.02" font-weight="bold" fill="#000">2</text>
<text transform="translate(515.00,359.22) scale(0.998,1)" font-size="8.06" font-weight="bold" fill="#000">10</text>
<text transform="translate(523.56,354.63) scale(1.087,1)" font-size="5.92" font-weight="bold" fill="#000">3</text>
<text transform="translate(549.50,359.22) scale(0.998,1)" font-size="8.06" font-weight="bold" fill="#000">10</text>
<text transform="translate(558.11,354.70) scale(0.979,1)" font-size="6.11" font-weight="bold" fill="#000">4</text>
<text transform="translate(584.80,359.22) scale(0.998,1)" font-size="8.06" font-weight="bold" fill="#000">10</text>
<text transform="translate(593.31,354.64) scale(1.068,1)" font-size="6.02" font-weight="bold" fill="#000">5</text>
<rect x="504.00" y="228.80" width="26.30" height="34.30" stroke="#4f88c6" stroke-width="1.5" fill="none"/>
<rect x="496.60" y="280.00" width="25.40" height="51.00" stroke="#111" stroke-width="1.6" fill="none"/>
<rect x="522.20" y="280.00" width="25.00" height="51.30" stroke="#d63a44" stroke-width="1.5" fill="none"/>
<text transform="translate(450.88,290.47) rotate(-90) scale(0.952,1)" font-size="12.30" font-weight="bold" fill="#000">CD8</text>
<text transform="translate(534.52,370.58) scale(1.004,1)" font-size="11.87" font-weight="bold" fill="#000">CD4</text>
<text transform="translate(532.94,245.91) scale(1.081,1)" font-size="9.47" font-weight="bold" fill="#000">29.2%</text>
<text transform="translate(552.60,303.81) scale(1.084,1)" font-size="9.33" font-weight="bold" fill="#000">58.9%</text>
<text transform="translate(472.65,338.27) scale(1.200,1)" font-size="8.56" font-weight="bold" fill="#000">4,9%</text>
<line x1="555.80" y1="218.80" x2="562.30" y2="218.80" stroke="#333" stroke-width="1.6"/>
<defs><pattern id="hatch" width="3.3" height="10" patternUnits="userSpaceOnUse" patternTransform="rotate(-28)"><rect width="3.3" height="10" fill="#fff"/><line x1="0.6" y1="0" x2="0.6" y2="10" stroke="#000" stroke-width="1.25"/></pattern></defs>
<line x1="66.80" y1="470.30" x2="66.80" y2="613.00" stroke="#000" stroke-width="1.8"/>
<line x1="65.90" y1="612.20" x2="208.30" y2="612.20" stroke="#000" stroke-width="1.8"/>
<line x1="63.80" y1="612.20" x2="66.80" y2="612.20" stroke="#000" stroke-width="1.5"/>
<line x1="63.80" y1="576.73" x2="66.80" y2="576.73" stroke="#000" stroke-width="1.5"/>
<line x1="63.80" y1="541.25" x2="66.80" y2="541.25" stroke="#000" stroke-width="1.5"/>
<line x1="63.80" y1="505.78" x2="66.80" y2="505.78" stroke="#000" stroke-width="1.5"/>
<line x1="63.80" y1="470.30" x2="66.80" y2="470.30" stroke="#000" stroke-width="1.5"/>
<line x1="90.40" y1="612.20" x2="90.40" y2="615.70" stroke="#000" stroke-width="1.5"/>
<line x1="90.40" y1="570.70" x2="90.40" y2="575.00" stroke="#000" stroke-width="1.4"/>
<line x1="90.40" y1="583.30" x2="90.40" y2="585.40" stroke="#000" stroke-width="1.4"/>
<line x1="82.20" y1="570.70" x2="98.30" y2="570.70" stroke="#000" stroke-width="1.9"/>
<line x1="82.20" y1="585.40" x2="98.30" y2="585.40" stroke="#000" stroke-width="1.9"/>
<rect x="74.75" y="575.00" width="30.60" height="8.30" stroke="#000" stroke-width="1.8" fill="#fff"/>
<line x1="74.75" y1="580.60" x2="105.35" y2="580.60" stroke="#000" stroke-width="1.8"/>
<text transform="translate(75.59,636.90) scale(1.069,1)" font-size="15.42" font-weight="bold" fill="#000">HD</text>
<line x1="137.50" y1="612.20" x2="137.50" y2="615.70" stroke="#000" stroke-width="1.5"/>
<line x1="137.50" y1="538.30" x2="137.50" y2="550.70" stroke="#000" stroke-width="1.4"/>
<line x1="137.50" y1="570.20" x2="137.50" y2="587.10" stroke="#000" stroke-width="1.4"/>
<line x1="130.00" y1="538.30" x2="145.20" y2="538.30" stroke="#000" stroke-width="1.9"/>
<line x1="130.00" y1="587.10" x2="145.20" y2="587.10" stroke="#000" stroke-width="1.9"/>
<rect x="121.85" y="550.70" width="30.00" height="19.50" stroke="#000" stroke-width="1.8" fill="#5a5a5a"/>
<line x1="121.85" y1="566.00" x2="151.85" y2="566.00" stroke="#000" stroke-width="1.8"/>
<text transform="translate(117.82,637.80) scale(0.958,1)" font-size="16.87" font-weight="bold" fill="#000">ZIKV</text>
<line x1="184.50" y1="612.20" x2="184.50" y2="615.70" stroke="#000" stroke-width="1.5"/>
<line x1="184.50" y1="549.60" x2="184.50" y2="552.80" stroke="#000" stroke-width="1.4"/>
<line x1="184.50" y1="572.30" x2="184.50" y2="575.40" stroke="#000" stroke-width="1.4"/>
<line x1="177.20" y1="549.60" x2="192.00" y2="549.60" stroke="#000" stroke-width="1.9"/>
<line x1="177.20" y1="575.40" x2="192.00" y2="575.40" stroke="#000" stroke-width="1.9"/>
<rect x="168.65" y="552.80" width="30.40" height="19.50" stroke="#000" stroke-width="1.8" fill="url(#hatch)"/>
<line x1="168.65" y1="563.20" x2="199.05" y2="563.20" stroke="#000" stroke-width="1.8"/>
<text transform="translate(164.41,637.80) scale(0.957,1)" font-size="16.87" font-weight="bold" fill="#000">DENV</text>
<text transform="translate(116.55,459.05) scale(1.059,1)" font-size="15.41" font-weight="bold" fill="#000">CD8</text>
<text transform="translate(42.44,602.31) rotate(-90) scale(1.107,1)" font-size="11.09" font-weight="bold" fill="#000">% among CD3 T-cells</text>
<text transform="translate(0.52,441.75) scale(1.074,1)" font-size="25.44" font-weight="bold" fill="#000">b</text>
<text transform="translate(58.40,615.12) scale(0.894,1)" font-size="8.48" font-weight="bold" fill="#000">0</text>
<text transform="translate(54.86,579.64) scale(0.811,1)" font-size="8.48" font-weight="bold" fill="#000">25</text>
<text transform="translate(54.89,544.17) scale(0.816,1)" font-size="8.48" font-weight="bold" fill="#000">50</text>
<text transform="translate(54.81,508.69) scale(0.805,1)" font-size="8.60" font-weight="bold" fill="#000">75</text>
<text transform="translate(51.07,473.22) scale(0.814,1)" font-size="8.48" font-weight="bold" fill="#000">100</text>
<line x1="83.60" y1="515.20" x2="184.20" y2="515.20" stroke="#333" stroke-width="1.5"/>
<line x1="83.60" y1="530.90" x2="134.00" y2="530.90" stroke="#333" stroke-width="1.5"/>
<text transform="translate(127.05,513.67) scale(0.992,1)" font-size="21.48" font-weight="bold" fill="#000">*</text>
<text transform="translate(137.95,513.67) scale(0.992,1)" font-size="21.48" font-weight="bold" fill="#000">*</text>
<text transform="translate(100.95,536.20) scale(0.992,1)" font-size="20.94" font-weight="bold" fill="#000">*</text>
<rect x="74.30" y="580.70" width="31.50" height="3.10" stroke="none" stroke-width="0" fill="#000"/>
<line x1="82.40" y1="584.80" x2="98.10" y2="584.80" stroke="#000" stroke-width="2"/>
<line x1="274.50" y1="471.00" x2="274.50" y2="613.90" stroke="#000" stroke-width="1.8"/>
<line x1="273.60" y1="613.10" x2="416.80" y2="613.10" stroke="#000" stroke-width="1.8"/>
<line x1="271.50" y1="613.10" x2="274.50" y2="613.10" stroke="#000" stroke-width="1.5"/>
<line x1="271.50" y1="577.58" x2="274.50" y2="577.58" stroke="#000" stroke-width="1.5"/>
<line x1="271.50" y1="542.05" x2="274.50" y2="542.05" stroke="#000" stroke-width="1.5"/>
<line x1="271.50" y1="506.52" x2="274.50" y2="506.52" stroke="#000" stroke-width="1.5"/>
<line x1="271.50" y1="471.00" x2="274.50" y2="471.00" stroke="#000" stroke-width="1.5"/>
<line x1="298.70" y1="613.10" x2="298.70" y2="616.60" stroke="#000" stroke-width="1.5"/>
<line x1="298.70" y1="523.10" x2="298.70" y2="533.60" stroke="#000" stroke-width="1.4"/>
<line x1="298.70" y1="555.10" x2="298.70" y2="557.10" stroke="#000" stroke-width="1.4"/>
<line x1="290.70" y1="523.10" x2="306.30" y2="523.10" stroke="#000" stroke-width="1.9"/>
<line x1="290.70" y1="557.10" x2="306.30" y2="557.10" stroke="#000" stroke-width="1.9"/>
<rect x="282.85" y="533.60" width="30.30" height="21.50" stroke="#000" stroke-width="1.8" fill="#fff"/>
<line x1="282.85" y1="546.50" x2="313.15" y2="546.50" stroke="#000" stroke-width="1.8"/>
<text transform="translate(281.49,637.90) scale(1.064,1)" font-size="15.42" font-weight="bold" fill="#000">HD</text>
<line x1="345.50" y1="613.10" x2="345.50" y2="616.60" stroke="#000" stroke-width="1.5"/>
<line x1="345.50" y1="537.10" x2="345.50" y2="538.00" stroke="#000" stroke-width="1.4"/>
<line x1="345.50" y1="563.20" x2="345.50" y2="586.20" stroke="#000" stroke-width="1.4"/>
<line x1="338.30" y1="537.10" x2="353.50" y2="537.10" stroke="#000" stroke-width="1.9"/>
<line x1="338.30" y1="586.20" x2="353.50" y2="586.20" stroke="#000" stroke-width="1.9"/>
<rect x="329.95" y="538.00" width="30.50" height="25.20" stroke="#000" stroke-width="1.8" fill="#5a5a5a"/>
<line x1="329.95" y1="553.00" x2="360.45" y2="553.00" stroke="#000" stroke-width="1.8"/>
<text transform="translate(326.21,637.90) scale(1.057,1)" font-size="15.42" font-weight="bold" fill="#000">ZIKV</text>
<line x1="392.90" y1="613.10" x2="392.90" y2="616.60" stroke="#000" stroke-width="1.5"/>
<line x1="392.90" y1="517.20" x2="392.90" y2="523.40" stroke="#000" stroke-width="1.4"/>
<line x1="392.90" y1="557.70" x2="392.90" y2="560.00" stroke="#000" stroke-width="1.4"/>
<line x1="385.50" y1="517.20" x2="400.30" y2="517.20" stroke="#000" stroke-width="1.9"/>
<line x1="385.50" y1="560.00" x2="400.30" y2="560.00" stroke="#000" stroke-width="1.9"/>
<rect x="377.05" y="523.40" width="31.00" height="34.30" stroke="#000" stroke-width="1.8" fill="url(#hatch)"/>
<line x1="377.05" y1="543.40" x2="408.05" y2="543.40" stroke="#000" stroke-width="1.8"/>
<text transform="translate(373.40,637.90) scale(1.057,1)" font-size="15.42" font-weight="bold" fill="#000">DENV</text>
<text transform="translate(334.24,456.94) scale(1.013,1)" font-size="16.25" font-weight="bold" fill="#000">CD4</text>
<text transform="translate(249.80,602.31) rotate(-90) scale(1.086,1)" font-size="11.31" font-weight="bold" fill="#000">% among CD3 T-cells</text>
<text transform="translate(227.22,442.37) scale(1.186,1)" font-size="22.83" font-weight="bold" fill="#000">c</text>
<text transform="translate(266.10,616.02) scale(0.894,1)" font-size="8.48" font-weight="bold" fill="#000">0</text>
<text transform="translate(262.56,580.49) scale(0.811,1)" font-size="8.48" font-weight="bold" fill="#000">25</text>
<text transform="translate(262.59,544.97) scale(0.816,1)" font-size="8.48" font-weight="bold" fill="#000">50</text>
<text transform="translate(262.51,509.44) scale(0.805,1)" font-size="8.60" font-weight="bold" fill="#000">75</text>
<text transform="translate(258.77,473.92) scale(0.814,1)" font-size="8.48" font-weight="bold" fill="#000">100</text>
<line x1="523.80" y1="467.50" x2="523.80" y2="610.40" stroke="#000" stroke-width="1.8"/>
<line x1="522.90" y1="609.60" x2="671.70" y2="609.60" stroke="#000" stroke-width="1.8"/>
<line x1="520.80" y1="609.60" x2="523.80" y2="609.60" stroke="#000" stroke-width="1.5"/>
<line x1="520.80" y1="581.18" x2="523.80" y2="581.18" stroke="#000" stroke-width="1.5"/>
<line x1="520.80" y1="552.76" x2="523.80" y2="552.76" stroke="#000" stroke-width="1.5"/>
<line x1="520.80" y1="524.34" x2="523.80" y2="524.34" stroke="#000" stroke-width="1.5"/>
<line x1="520.80" y1="495.92" x2="523.80" y2="495.92" stroke="#000" stroke-width="1.5"/>
<line x1="520.80" y1="467.50" x2="523.80" y2="467.50" stroke="#000" stroke-width="1.5"/>
<line x1="547.90" y1="609.60" x2="547.90" y2="613.10" stroke="#000" stroke-width="1.5"/>
<line x1="547.90" y1="591.80" x2="547.90" y2="594.60" stroke="#000" stroke-width="1.4"/>
<line x1="547.90" y1="601.80" x2="547.90" y2="606.70" stroke="#000" stroke-width="1.4"/>
<line x1="540.30" y1="591.80" x2="556.70" y2="591.80" stroke="#000" stroke-width="1.9"/>
<line x1="540.30" y1="606.70" x2="556.70" y2="606.70" stroke="#000" stroke-width="1.9"/>
<rect x="532.15" y="594.60" width="31.80" height="7.20" stroke="#000" stroke-width="1.8" fill="#f0f0f0"/>
<rect x="532.15" y="598.20" width="31.80" height="3.60" stroke="none" stroke-width="0" fill="#a8a8a8"/>
<rect x="532.15" y="594.60" width="31.80" height="7.20" stroke="#000" stroke-width="1.8" fill="none"/>
<line x1="532.15" y1="598.20" x2="563.95" y2="598.20" stroke="#000" stroke-width="1.8"/>
<text transform="translate(533.71,634.10) scale(1.035,1)" font-size="15.56" font-weight="bold" fill="#000">HD</text>
<line x1="597.00" y1="609.60" x2="597.00" y2="613.10" stroke="#000" stroke-width="1.5"/>
<line x1="597.00" y1="532.30" x2="597.00" y2="537.80" stroke="#000" stroke-width="1.4"/>
<line x1="597.00" y1="594.00" x2="597.00" y2="598.00" stroke="#000" stroke-width="1.4"/>
<line x1="590.00" y1="532.30" x2="605.80" y2="532.30" stroke="#000" stroke-width="1.9"/>
<line x1="590.00" y1="598.00" x2="605.80" y2="598.00" stroke="#000" stroke-width="1.9"/>
<rect x="580.95" y="537.80" width="31.80" height="56.20" stroke="#000" stroke-width="1.8" fill="#5a5a5a"/>
<line x1="580.95" y1="563.60" x2="612.75" y2="563.60" stroke="#000" stroke-width="1.8"/>
<text transform="translate(577.51,634.10) scale(1.044,1)" font-size="15.56" font-weight="bold" fill="#000">ZIKV</text>
<line x1="646.40" y1="609.60" x2="646.40" y2="613.10" stroke="#000" stroke-width="1.5"/>
<line x1="646.40" y1="573.60" x2="646.40" y2="582.40" stroke="#000" stroke-width="1.4"/>
<line x1="646.40" y1="598.90" x2="646.40" y2="603.70" stroke="#000" stroke-width="1.4"/>
<line x1="638.70" y1="573.60" x2="655.20" y2="573.60" stroke="#000" stroke-width="1.9"/>
<line x1="638.70" y1="603.70" x2="655.20" y2="603.70" stroke="#000" stroke-width="1.9"/>
<rect x="630.45" y="582.40" width="32.00" height="16.50" stroke="#000" stroke-width="1.8" fill="url(#hatch)"/>
<line x1="630.45" y1="593.40" x2="662.45" y2="593.40" stroke="#000" stroke-width="1.8"/>
<text transform="translate(625.90,634.00) scale(1.086,1)" font-size="14.98" font-weight="bold" fill="#000">DENV</text>
<text transform="translate(577.76,460.90) scale(1.026,1)" font-size="16.44" font-weight="bold" fill="#000">DN</text>
<text transform="translate(489.42,601.30) rotate(-90) scale(1.088,1)" font-size="11.20" font-weight="bold" fill="#000">% among CD3 T-cells</text>
<text transform="translate(463.25,442.83) scale(1.066,1)" font-size="26.94" font-weight="bold" fill="#000">d</text>
<text transform="translate(514.31,612.52) scale(1.142,1)" font-size="8.48" font-weight="bold" fill="#000">0</text>
<text transform="translate(509.53,584.10) scale(1.077,1)" font-size="8.48" font-weight="bold" fill="#000">10</text>
<text transform="translate(509.79,555.68) scale(1.048,1)" font-size="8.48" font-weight="bold" fill="#000">20</text>
<text transform="translate(509.90,527.23) scale(1.039,1)" font-size="8.45" font-weight="bold" fill="#000">30</text>
<text transform="translate(509.97,498.84) scale(1.028,1)" font-size="8.48" font-weight="bold" fill="#000">40</text>
<text transform="translate(509.83,470.42) scale(1.043,1)" font-size="8.48" font-weight="bold" fill="#000">50</text>
<line x1="544.90" y1="515.70" x2="603.20" y2="515.70" stroke="#333" stroke-width="1.5"/>
<text transform="translate(562.95,512.84) scale(1.006,1)" font-size="20.13" font-weight="bold" fill="#000">*</text>
<text transform="translate(573.65,512.84) scale(1.006,1)" font-size="20.13" font-weight="bold" fill="#000">*</text>
</svg></body></html>
